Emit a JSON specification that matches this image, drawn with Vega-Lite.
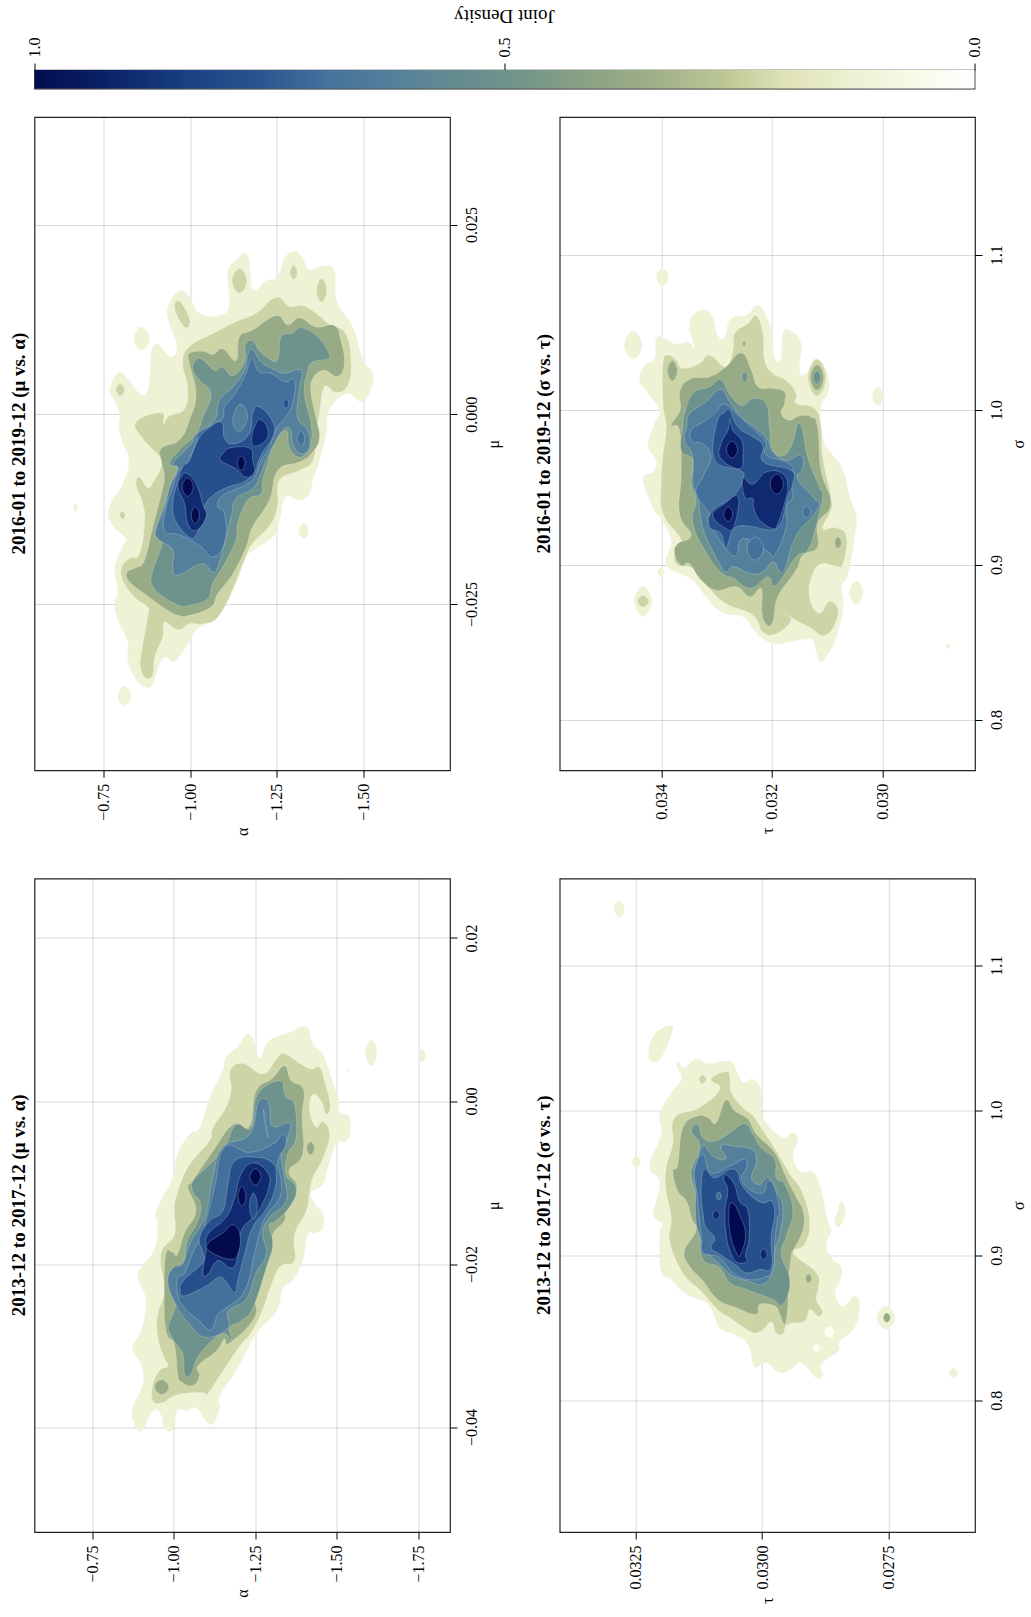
{"$schema":"https://vega.github.io/schema/vega-lite/v6.json","background":"white","padding":{"left":8.5,"top":5,"right":0,"bottom":0},"bounds":"flush","spacing":28,
"config":{"font":"Liberation Serif","view":{"stroke":"#222","strokeWidth":1.2},"axis":{"labelFont":"Liberation Serif","titleFont":"Liberation Serif","labelFontSize":16,"titleFontSize":16,"titleFontWeight":"normal","labelColor":"#000","titleColor":"#000","tickColor":"#000","tickSize":7,"tickWidth":1,"domain":false,"labelAngle":-90,"titleAngle":-90,"titleAlign":"center","titleBaseline":"middle","gridColor":"#000","gridOpacity":0.15,"gridWidth":1,"zindex":1,"labelOverlap":false,"labelPadding":6}},
"vconcat":[
{"width":940,"height":18.5,"title":{"text":"Joint Density","orient":"top","anchor":"middle","angle":180,"fontSize":19,"fontWeight":"normal","font":"Liberation Serif","baseline":"middle","offset":2.3},
"data":{"values":[{"v":1,"w":0}]},"mark":{"type":"rect","fill":{"gradient":"linear","x1":0,"x2":1,"y1":0,"y2":0,"stops":[{"offset":0,"color":"#010b4e"},{"offset":0.1,"color":"#0f2a70"},{"offset":0.17,"color":"#1c4285"},{"offset":0.24,"color":"#2a558f"},{"offset":0.31,"color":"#44709c"},{"offset":0.38,"color":"#55809b"},{"offset":0.45,"color":"#648c90"},{"offset":0.52,"color":"#74958a"},{"offset":0.59,"color":"#8aa384"},{"offset":0.66,"color":"#a0b088"},{"offset":0.73,"color":"#bcc695"},{"offset":0.8,"color":"#dfe3b6"},{"offset":0.87,"color":"#eef1d2"},{"offset":0.94,"color":"#f9fae9"},{"offset":1,"color":"#ffffff"}]}},"encoding":{"x":{"field":"v","type":"quantitative","scale":{"domain":[1,0],"nice":false},"axis":{"orient":"top","values":[1,0.5,0],"format":".1f","grid":false,"title":null,"labelPadding":6}},"x2":{"field":"w"}}},
{"concat":[
{"width":415.5,"height":653.3,"title":{"text":"2016-01 to 2019-12 (μ vs. α)","orient":"left","anchor":"middle","fontWeight":"bold","fontSize":19,"font":"Liberation Serif","offset":5.4},
"data":{"values":[
{"g":1,"d":0.12,"x":-1.166,"y":0.0209},{"g":1,"d":0.12,"x":-1.18,"y":0.0165},{"g":1,"d":0.12,"x":-1.218,"y":0.0176},{"g":1,"d":0.12,"x":-1.252,"y":0.0181},{"g":1,"d":0.12,"x":-1.271,"y":0.0205},{"g":1,"d":0.12,"x":-1.3,"y":0.0215},{"g":1,"d":0.12,"x":-1.324,"y":0.0205},{"g":1,"d":0.12,"x":-1.343,"y":0.019},{"g":1,"d":0.12,"x":-1.381,"y":0.0195},{"g":1,"d":0.12,"x":-1.415,"y":0.019},{"g":1,"d":0.12,"x":-1.422,"y":0.015},{"g":1,"d":0.12,"x":-1.468,"y":0.0115},{"g":1,"d":0.12,"x":-1.496,"y":0.0073},{"g":1,"d":0.12,"x":-1.525,"y":0.0053},{"g":1,"d":0.12,"x":-1.515,"y":0.0027},{"g":1,"d":0.12,"x":-1.491,"y":0.0017},{"g":1,"d":0.12,"x":-1.448,"y":0.0027},{"g":1,"d":0.12,"x":-1.4,"y":0.0005},{"g":1,"d":0.12,"x":-1.391,"y":-0.0026},{"g":1,"d":0.12,"x":-1.372,"y":-0.0061},{"g":1,"d":0.12,"x":-1.353,"y":-0.0087},{"g":1,"d":0.12,"x":-1.343,"y":-0.0105},{"g":1,"d":0.12,"x":-1.314,"y":-0.0113},{"g":1,"d":0.12,"x":-1.276,"y":-0.0109},{"g":1,"d":0.12,"x":-1.257,"y":-0.014},{"g":1,"d":0.12,"x":-1.242,"y":-0.0159},{"g":1,"d":0.12,"x":-1.19,"y":-0.0177},{"g":1,"d":0.12,"x":-1.161,"y":-0.0188},{"g":1,"d":0.12,"x":-1.132,"y":-0.0223},{"g":1,"d":0.12,"x":-1.094,"y":-0.0258},{"g":1,"d":0.12,"x":-1.046,"y":-0.0276},{"g":1,"d":0.12,"x":-1.017,"y":-0.0284},{"g":1,"d":0.12,"x":-0.989,"y":-0.0306},{"g":1,"d":0.12,"x":-0.955,"y":-0.0325},{"g":1,"d":0.12,"x":-0.926,"y":-0.032},{"g":1,"d":0.12,"x":-0.907,"y":-0.0335},{"g":1,"d":0.12,"x":-0.893,"y":-0.0355},{"g":1,"d":0.12,"x":-0.874,"y":-0.036},{"g":1,"d":0.12,"x":-0.845,"y":-0.035},{"g":1,"d":0.12,"x":-0.821,"y":-0.0324},{"g":1,"d":0.12,"x":-0.821,"y":-0.03},{"g":1,"d":0.12,"x":-0.792,"y":-0.0271},{"g":1,"d":0.12,"x":-0.783,"y":-0.025},{"g":1,"d":0.12,"x":-0.792,"y":-0.0232},{"g":1,"d":0.12,"x":-0.783,"y":-0.0201},{"g":1,"d":0.12,"x":-0.811,"y":-0.017},{"g":1,"d":0.12,"x":-0.816,"y":-0.0164},{"g":1,"d":0.12,"x":-0.773,"y":-0.0144},{"g":1,"d":0.12,"x":-0.768,"y":-0.0122},{"g":1,"d":0.12,"x":-0.807,"y":-0.0091},{"g":1,"d":0.12,"x":-0.824,"y":-0.0061},{"g":1,"d":0.12,"x":-0.807,"y":-0.0039},{"g":1,"d":0.12,"x":-0.795,"y":-0.0017},{"g":1,"d":0.12,"x":-0.797,"y":0},{"g":1,"d":0.12,"x":-0.783,"y":0.0018},{"g":1,"d":0.12,"x":-0.768,"y":0.0032},{"g":1,"d":0.12,"x":-0.792,"y":0.0054},{"g":1,"d":0.12,"x":-0.816,"y":0.0049},{"g":1,"d":0.12,"x":-0.859,"y":0.0026},{"g":1,"d":0.12,"x":-0.881,"y":0.0036},{"g":1,"d":0.12,"x":-0.888,"y":0.008},{"g":1,"d":0.12,"x":-0.907,"y":0.0092},{"g":1,"d":0.12,"x":-0.945,"y":0.0075},{"g":1,"d":0.12,"x":-0.962,"y":0.0091},{"g":1,"d":0.12,"x":-0.941,"y":0.0119},{"g":1,"d":0.12,"x":-0.936,"y":0.0141},{"g":1,"d":0.12,"x":-0.969,"y":0.0162},{"g":1,"d":0.12,"x":-0.998,"y":0.0154},{"g":1,"d":0.12,"x":-1.027,"y":0.0133},{"g":1,"d":0.12,"x":-1.08,"y":0.013},{"g":1,"d":0.12,"x":-1.113,"y":0.0143},{"g":1,"d":0.12,"x":-1.108,"y":0.0185},{"g":1,"d":0.12,"x":-1.132,"y":0.0203},
{"g":2,"d":0.12,"x":-0.859,"y":0.0115},{"g":2,"d":0.12,"x":-0.883,"y":0.01},{"g":2,"d":0.12,"x":-0.859,"y":0.0084},{"g":2,"d":0.12,"x":-0.838,"y":0.01},
{"g":3,"d":0.12,"x":-0.811,"y":-0.0358},{"g":3,"d":0.12,"x":-0.83,"y":-0.0372},{"g":3,"d":0.12,"x":-0.811,"y":-0.0383},{"g":3,"d":0.12,"x":-0.792,"y":-0.0372},
{"g":4,"d":0.12,"x":-1.327,"y":-0.0144},{"g":4,"d":0.12,"x":-1.34,"y":-0.0154},{"g":4,"d":0.12,"x":-1.327,"y":-0.0164},{"g":4,"d":0.12,"x":-1.313,"y":-0.0154},
{"g":5,"d":0.12,"x":-0.67,"y":-0.0118},{"g":5,"d":0.12,"x":-0.676,"y":-0.0123},{"g":5,"d":0.12,"x":-0.67,"y":-0.0128},{"g":5,"d":0.12,"x":-0.664,"y":-0.0123},
{"g":6,"d":0.235,"x":-1.247,"y":0.0154},{"g":6,"d":0.235,"x":-1.285,"y":0.0142},{"g":6,"d":0.235,"x":-1.324,"y":0.0143},{"g":6,"d":0.235,"x":-1.362,"y":0.0133},{"g":6,"d":0.235,"x":-1.405,"y":0.0117},{"g":6,"d":0.235,"x":-1.448,"y":0.0106},{"g":6,"d":0.235,"x":-1.463,"y":0.0067},{"g":6,"d":0.235,"x":-1.453,"y":0.0038},{"g":6,"d":0.235,"x":-1.42,"y":0.0029},{"g":6,"d":0.235,"x":-1.386,"y":0.0036},{"g":6,"d":0.235,"x":-1.372,"y":0.0001},{"g":6,"d":0.235,"x":-1.362,"y":-0.0026},{"g":6,"d":0.235,"x":-1.353,"y":-0.0061},{"g":6,"d":0.235,"x":-1.314,"y":-0.0074},{"g":6,"d":0.235,"x":-1.257,"y":-0.0087},{"g":6,"d":0.235,"x":-1.252,"y":-0.0118},{"g":6,"d":0.235,"x":-1.233,"y":-0.0144},{"g":6,"d":0.235,"x":-1.18,"y":-0.017},{"g":6,"d":0.235,"x":-1.156,"y":-0.0192},{"g":6,"d":0.235,"x":-1.123,"y":-0.023},{"g":6,"d":0.235,"x":-1.08,"y":-0.0267},{"g":6,"d":0.235,"x":-1.036,"y":-0.0276},{"g":6,"d":0.235,"x":-0.998,"y":-0.0276},{"g":6,"d":0.235,"x":-0.965,"y":-0.0284},{"g":6,"d":0.235,"x":-0.926,"y":-0.0274},{"g":6,"d":0.235,"x":-0.921,"y":-0.0293},{"g":6,"d":0.235,"x":-0.898,"y":-0.032},{"g":6,"d":0.235,"x":-0.893,"y":-0.0342},{"g":6,"d":0.235,"x":-0.875,"y":-0.0348},{"g":6,"d":0.235,"x":-0.859,"y":-0.0337},{"g":6,"d":0.235,"x":-0.859,"y":-0.0317},{"g":6,"d":0.235,"x":-0.878,"y":-0.0267},{"g":6,"d":0.235,"x":-0.878,"y":-0.0254},{"g":6,"d":0.235,"x":-0.845,"y":-0.0243},{"g":6,"d":0.235,"x":-0.811,"y":-0.0223},{"g":6,"d":0.235,"x":-0.802,"y":-0.0203},{"g":6,"d":0.235,"x":-0.826,"y":-0.019},{"g":6,"d":0.235,"x":-0.854,"y":-0.0184},{"g":6,"d":0.235,"x":-0.869,"y":-0.0144},{"g":6,"d":0.235,"x":-0.864,"y":-0.0118},{"g":6,"d":0.235,"x":-0.845,"y":-0.0094},{"g":6,"d":0.235,"x":-0.854,"y":-0.0083},{"g":6,"d":0.235,"x":-0.878,"y":-0.0097},{"g":6,"d":0.235,"x":-0.897,"y":-0.0087},{"g":6,"d":0.235,"x":-0.917,"y":-0.0069},{"g":6,"d":0.235,"x":-0.912,"y":-0.0056},{"g":6,"d":0.235,"x":-0.864,"y":-0.0032},{"g":6,"d":0.235,"x":-0.845,"y":-0.001},{"g":6,"d":0.235,"x":-0.917,"y":0.0002},{"g":6,"d":0.235,"x":-0.923,"y":-0.0012},{"g":6,"d":0.235,"x":-0.941,"y":-0.0002},{"g":6,"d":0.235,"x":-0.984,"y":0.0007},{"g":6,"d":0.235,"x":-0.993,"y":0.0036},{"g":6,"d":0.235,"x":-0.979,"y":0.0067},{"g":6,"d":0.235,"x":-0.998,"y":0.0089},{"g":6,"d":0.235,"x":-1.065,"y":0.0106},{"g":6,"d":0.235,"x":-1.132,"y":0.0122},{"g":6,"d":0.235,"x":-1.19,"y":0.0133},
{"g":7,"d":0.235,"x":-1.142,"y":0.0192},{"g":7,"d":0.235,"x":-1.163,"y":0.0176},{"g":7,"d":0.235,"x":-1.142,"y":0.016},{"g":7,"d":0.235,"x":-1.121,"y":0.0176},
{"g":8,"d":0.235,"x":-0.969,"y":0.0149},{"g":8,"d":0.235,"x":-0.999,"y":0.0124},{"g":8,"d":0.235,"x":-0.984,"y":0.0115},{"g":8,"d":0.235,"x":-0.956,"y":0.0139},
{"g":9,"d":0.235,"x":-1.298,"y":0.0196},{"g":9,"d":0.235,"x":-1.308,"y":0.0187},{"g":9,"d":0.235,"x":-1.298,"y":0.0178},{"g":9,"d":0.235,"x":-1.288,"y":0.0187},
{"g":10,"d":0.235,"x":-1.378,"y":0.0179},{"g":10,"d":0.235,"x":-1.393,"y":0.0163},{"g":10,"d":0.235,"x":-1.378,"y":0.0148},{"g":10,"d":0.235,"x":-1.364,"y":0.0163},
{"g":11,"d":0.235,"x":-0.799,"y":0.004},{"g":11,"d":0.235,"x":-0.811,"y":0.0032},{"g":11,"d":0.235,"x":-0.799,"y":0.0024},{"g":11,"d":0.235,"x":-0.787,"y":0.0032},
{"g":12,"d":0.235,"x":-0.805,"y":-0.0128},{"g":12,"d":0.235,"x":-0.813,"y":-0.0133},{"g":12,"d":0.235,"x":-0.805,"y":-0.0138},{"g":12,"d":0.235,"x":-0.797,"y":-0.0133},
{"g":13,"d":0.37,"x":-1.247,"y":0.013},{"g":13,"d":0.37,"x":-1.281,"y":0.0118},{"g":13,"d":0.37,"x":-1.316,"y":0.0127},{"g":13,"d":0.37,"x":-1.362,"y":0.0115},{"g":13,"d":0.37,"x":-1.415,"y":0.0117},{"g":13,"d":0.37,"x":-1.434,"y":0.0097},{"g":13,"d":0.37,"x":-1.444,"y":0.0067},{"g":13,"d":0.37,"x":-1.424,"y":0.005},{"g":13,"d":0.37,"x":-1.386,"y":0.0058},{"g":13,"d":0.37,"x":-1.353,"y":0.0047},{"g":13,"d":0.37,"x":-1.348,"y":0.0027},{"g":13,"d":0.37,"x":-1.362,"y":-0.0004},{"g":13,"d":0.37,"x":-1.372,"y":-0.0032},{"g":13,"d":0.37,"x":-1.348,"y":-0.0052},{"g":13,"d":0.37,"x":-1.314,"y":-0.0063},{"g":13,"d":0.37,"x":-1.252,"y":-0.0074},{"g":13,"d":0.37,"x":-1.228,"y":-0.0113},{"g":13,"d":0.37,"x":-1.18,"y":-0.0148},{"g":13,"d":0.37,"x":-1.161,"y":-0.0175},{"g":13,"d":0.37,"x":-1.123,"y":-0.021},{"g":13,"d":0.37,"x":-1.08,"y":-0.0236},{"g":13,"d":0.37,"x":-1.06,"y":-0.0254},{"g":13,"d":0.37,"x":-0.998,"y":-0.0265},{"g":13,"d":0.37,"x":-0.965,"y":-0.0265},{"g":13,"d":0.37,"x":-0.921,"y":-0.0254},{"g":13,"d":0.37,"x":-0.873,"y":-0.0238},{"g":13,"d":0.37,"x":-0.826,"y":-0.0221},{"g":13,"d":0.37,"x":-0.819,"y":-0.0208},{"g":13,"d":0.37,"x":-0.845,"y":-0.0202},{"g":13,"d":0.37,"x":-0.869,"y":-0.0192},{"g":13,"d":0.37,"x":-0.893,"y":-0.0148},{"g":13,"d":0.37,"x":-0.917,"y":-0.0105},{"g":13,"d":0.37,"x":-0.926,"y":-0.0083},{"g":13,"d":0.37,"x":-0.917,"y":-0.0061},{"g":13,"d":0.37,"x":-0.917,"y":-0.0045},{"g":13,"d":0.37,"x":-0.969,"y":-0.0034},{"g":13,"d":0.37,"x":-0.998,"y":-0.0008},{"g":13,"d":0.37,"x":-1.017,"y":0.0027},{"g":13,"d":0.37,"x":-0.998,"y":0.0067},{"g":13,"d":0.37,"x":-0.998,"y":0.008},{"g":13,"d":0.37,"x":-1.036,"y":0.0083},{"g":13,"d":0.37,"x":-1.065,"y":0.0079},{"g":13,"d":0.37,"x":-1.094,"y":0.0086},{"g":13,"d":0.37,"x":-1.132,"y":0.0071},{"g":13,"d":0.37,"x":-1.142,"y":0.0102},{"g":13,"d":0.37,"x":-1.18,"y":0.0111},
{"g":14,"d":0.5,"x":-1.319,"y":0.0114},{"g":14,"d":0.5,"x":-1.362,"y":0.0104},{"g":14,"d":0.5,"x":-1.396,"y":0.0084},{"g":14,"d":0.5,"x":-1.396,"y":0.0073},{"g":14,"d":0.5,"x":-1.353,"y":0.0069},{"g":14,"d":0.5,"x":-1.338,"y":0.0056},{"g":14,"d":0.5,"x":-1.329,"y":0.0027},{"g":14,"d":0.5,"x":-1.348,"y":-0.0012},{"g":14,"d":0.5,"x":-1.348,"y":-0.0039},{"g":14,"d":0.5,"x":-1.334,"y":-0.0052},{"g":14,"d":0.5,"x":-1.309,"y":-0.0056},{"g":14,"d":0.5,"x":-1.285,"y":-0.0043},{"g":14,"d":0.5,"x":-1.276,"y":-0.0021},{"g":14,"d":0.5,"x":-1.242,"y":-0.0039},{"g":14,"d":0.5,"x":-1.223,"y":-0.0065},{"g":14,"d":0.5,"x":-1.209,"y":-0.0087},{"g":14,"d":0.5,"x":-1.204,"y":-0.0105},{"g":14,"d":0.5,"x":-1.166,"y":-0.0113},{"g":14,"d":0.5,"x":-1.137,"y":-0.0144},{"g":14,"d":0.5,"x":-1.132,"y":-0.0166},{"g":14,"d":0.5,"x":-1.099,"y":-0.0197},{"g":14,"d":0.5,"x":-1.065,"y":-0.0223},{"g":14,"d":0.5,"x":-1.051,"y":-0.0243},{"g":14,"d":0.5,"x":-0.998,"y":-0.0252},{"g":14,"d":0.5,"x":-0.969,"y":-0.0252},{"g":14,"d":0.5,"x":-0.921,"y":-0.024},{"g":14,"d":0.5,"x":-0.893,"y":-0.0227},{"g":14,"d":0.5,"x":-0.89,"y":-0.021},{"g":14,"d":0.5,"x":-0.921,"y":-0.0166},{"g":14,"d":0.5,"x":-0.902,"y":-0.0153},{"g":14,"d":0.5,"x":-0.926,"y":-0.0118},{"g":14,"d":0.5,"x":-0.95,"y":-0.0087},{"g":14,"d":0.5,"x":-0.965,"y":-0.0071},{"g":14,"d":0.5,"x":-0.941,"y":-0.0065},{"g":14,"d":0.5,"x":-0.969,"y":-0.0047},{"g":14,"d":0.5,"x":-1.017,"y":-0.0026},{"g":14,"d":0.5,"x":-1.036,"y":-0.0004},{"g":14,"d":0.5,"x":-1.06,"y":0.0027},{"g":14,"d":0.5,"x":-1.027,"y":0.0045},{"g":14,"d":0.5,"x":-1.008,"y":0.0058},{"g":14,"d":0.5,"x":-1.012,"y":0.0069},{"g":14,"d":0.5,"x":-1.032,"y":0.0073},{"g":14,"d":0.5,"x":-1.07,"y":0.0058},{"g":14,"d":0.5,"x":-1.094,"y":0.0062},{"g":14,"d":0.5,"x":-1.123,"y":0.0051},{"g":14,"d":0.5,"x":-1.156,"y":0.0069},{"g":14,"d":0.5,"x":-1.159,"y":0.0091},{"g":14,"d":0.5,"x":-1.18,"y":0.0097},{"g":14,"d":0.5,"x":-1.199,"y":0.0084},{"g":14,"d":0.5,"x":-1.228,"y":0.0073},{"g":14,"d":0.5,"x":-1.252,"y":0.0073},{"g":14,"d":0.5,"x":-1.262,"y":0.0102},{"g":14,"d":0.5,"x":-1.295,"y":0.0107},
{"g":15,"d":0.62,"x":-1.18,"y":0.0085},{"g":15,"d":0.62,"x":-1.204,"y":0.0069},{"g":15,"d":0.62,"x":-1.238,"y":0.006},{"g":15,"d":0.62,"x":-1.271,"y":0.0054},{"g":15,"d":0.62,"x":-1.319,"y":0.0058},{"g":15,"d":0.62,"x":-1.314,"y":0.0032},{"g":15,"d":0.62,"x":-1.309,"y":-0.0004},{"g":15,"d":0.62,"x":-1.338,"y":-0.0021},{"g":15,"d":0.62,"x":-1.343,"y":-0.0043},{"g":15,"d":0.62,"x":-1.319,"y":-0.0052},{"g":15,"d":0.62,"x":-1.295,"y":-0.0039},{"g":15,"d":0.62,"x":-1.29,"y":-0.0021},{"g":15,"d":0.62,"x":-1.271,"y":-0.0019},{"g":15,"d":0.62,"x":-1.242,"y":-0.0039},{"g":15,"d":0.62,"x":-1.218,"y":-0.0061},{"g":15,"d":0.62,"x":-1.204,"y":-0.0078},{"g":15,"d":0.62,"x":-1.18,"y":-0.0098},{"g":15,"d":0.62,"x":-1.132,"y":-0.0111},{"g":15,"d":0.62,"x":-1.118,"y":-0.0135},{"g":15,"d":0.62,"x":-1.099,"y":-0.017},{"g":15,"d":0.62,"x":-1.08,"y":-0.0201},{"g":15,"d":0.62,"x":-1.065,"y":-0.0208},{"g":15,"d":0.62,"x":-1.032,"y":-0.0197},{"g":15,"d":0.62,"x":-0.965,"y":-0.0212},{"g":15,"d":0.62,"x":-0.95,"y":-0.0201},{"g":15,"d":0.62,"x":-0.95,"y":-0.0179},{"g":15,"d":0.62,"x":-0.907,"y":-0.0164},{"g":15,"d":0.62,"x":-0.902,"y":-0.0151},{"g":15,"d":0.62,"x":-0.926,"y":-0.0124},{"g":15,"d":0.62,"x":-0.941,"y":-0.0096},{"g":15,"d":0.62,"x":-0.965,"y":-0.0071},{"g":15,"d":0.62,"x":-0.95,"y":-0.0065},{"g":15,"d":0.62,"x":-1.003,"y":-0.0039},{"g":15,"d":0.62,"x":-1.017,"y":-0.0026},{"g":15,"d":0.62,"x":-1.07,"y":-0.0008},{"g":15,"d":0.62,"x":-1.084,"y":0.0018},{"g":15,"d":0.62,"x":-1.123,"y":0.0036},{"g":15,"d":0.62,"x":-1.156,"y":0.0058},{"g":15,"d":0.62,"x":-1.166,"y":0.0078},
{"g":16,"d":0.69,"x":-1.18,"y":0.0073},{"g":16,"d":0.69,"x":-1.199,"y":0.0056},{"g":16,"d":0.69,"x":-1.233,"y":0.0054},{"g":16,"d":0.69,"x":-1.271,"y":0.0043},{"g":16,"d":0.69,"x":-1.3,"y":0.0045},{"g":16,"d":0.69,"x":-1.295,"y":0.0014},{"g":16,"d":0.69,"x":-1.271,"y":-0.0006},{"g":16,"d":0.69,"x":-1.247,"y":-0.0019},{"g":16,"d":0.69,"x":-1.228,"y":-0.0043},{"g":16,"d":0.69,"x":-1.204,"y":-0.0061},{"g":16,"d":0.69,"x":-1.185,"y":-0.0083},{"g":16,"d":0.69,"x":-1.156,"y":-0.0094},{"g":16,"d":0.69,"x":-1.094,"y":-0.0107},{"g":16,"d":0.69,"x":-1.08,"y":-0.0122},{"g":16,"d":0.69,"x":-1.099,"y":-0.0131},{"g":16,"d":0.69,"x":-1.101,"y":-0.0166},{"g":16,"d":0.69,"x":-1.067,"y":-0.0188},{"g":16,"d":0.69,"x":-1.027,"y":-0.0173},{"g":16,"d":0.69,"x":-0.969,"y":-0.0159},{"g":16,"d":0.69,"x":-0.926,"y":-0.0153},{"g":16,"d":0.69,"x":-0.931,"y":-0.0122},{"g":16,"d":0.69,"x":-0.95,"y":-0.0096},{"g":16,"d":0.69,"x":-0.965,"y":-0.0076},{"g":16,"d":0.69,"x":-0.988,"y":-0.0065},{"g":16,"d":0.69,"x":-1.017,"y":-0.0039},{"g":16,"d":0.69,"x":-1.027,"y":-0.0023},{"g":16,"d":0.69,"x":-1.089,"y":-0.0008},{"g":16,"d":0.69,"x":-1.099,"y":0.001},{"g":16,"d":0.69,"x":-1.123,"y":0.0023},{"g":16,"d":0.69,"x":-1.156,"y":0.0049},{"g":16,"d":0.69,"x":-1.17,"y":0.0067},
{"g":17,"d":0.62,"x":-1.142,"y":0.0013},{"g":17,"d":0.62,"x":-1.164,"y":0.0001},{"g":17,"d":0.62,"x":-1.156,"y":-0.0016},{"g":17,"d":0.62,"x":-1.137,"y":-0.0022},{"g":17,"d":0.62,"x":-1.123,"y":-0.0008},
{"g":18,"d":0.78,"x":-1.276,"y":0.002},{"g":18,"d":0.78,"x":-1.284,"y":0.0014},{"g":18,"d":0.78,"x":-1.276,"y":0.0008},{"g":18,"d":0.78,"x":-1.268,"y":0.0014},
{"g":19,"d":0.69,"x":-1.319,"y":-0.0022},{"g":19,"d":0.69,"x":-1.33,"y":-0.0032},{"g":19,"d":0.69,"x":-1.319,"y":-0.0042},{"g":19,"d":0.69,"x":-1.308,"y":-0.0032},
{"g":20,"d":0.78,"x":-1.017,"y":-0.0039},{"g":20,"d":0.78,"x":-1.041,"y":-0.0023},{"g":20,"d":0.78,"x":-1.089,"y":-0.001},{"g":20,"d":0.78,"x":-1.099,"y":-0.0032},{"g":20,"d":0.78,"x":-1.127,"y":-0.0039},{"g":20,"d":0.78,"x":-1.17,"y":-0.0026},{"g":20,"d":0.78,"x":-1.18,"y":0.0001},{"g":20,"d":0.78,"x":-1.199,"y":0.001},{"g":20,"d":0.78,"x":-1.238,"y":-0.001},{"g":20,"d":0.78,"x":-1.238,"y":-0.003},{"g":20,"d":0.78,"x":-1.209,"y":-0.005},{"g":20,"d":0.78,"x":-1.194,"y":-0.0065},{"g":20,"d":0.78,"x":-1.188,"y":-0.0074},{"g":20,"d":0.78,"x":-1.156,"y":-0.0089},{"g":20,"d":0.78,"x":-1.108,"y":-0.0096},{"g":20,"d":0.78,"x":-1.065,"y":-0.0107},{"g":20,"d":0.78,"x":-1.041,"y":-0.0122},{"g":20,"d":0.78,"x":-1.032,"y":-0.0142},{"g":20,"d":0.78,"x":-1.017,"y":-0.0159},{"g":20,"d":0.78,"x":-0.998,"y":-0.0162},{"g":20,"d":0.78,"x":-0.96,"y":-0.0142},{"g":20,"d":0.78,"x":-0.95,"y":-0.0118},{"g":20,"d":0.78,"x":-0.965,"y":-0.0087},{"g":20,"d":0.78,"x":-0.979,"y":-0.0069},{"g":20,"d":0.78,"x":-0.998,"y":-0.0061},
{"g":21,"d":0.9,"x":-1.204,"y":-0.0007},{"g":21,"d":0.9,"x":-1.223,"y":-0.0019},{"g":21,"d":0.9,"x":-1.218,"y":-0.0034},{"g":21,"d":0.9,"x":-1.185,"y":-0.0042},{"g":21,"d":0.9,"x":-1.177,"y":-0.003},{"g":21,"d":0.9,"x":-1.19,"y":-0.0012},
{"g":22,"d":0.9,"x":-1.094,"y":-0.0052},{"g":22,"d":0.9,"x":-1.118,"y":-0.0044},{"g":22,"d":0.9,"x":-1.172,"y":-0.0045},{"g":22,"d":0.9,"x":-1.18,"y":-0.0061},{"g":22,"d":0.9,"x":-1.185,"y":-0.0076},{"g":22,"d":0.9,"x":-1.161,"y":-0.0083},{"g":22,"d":0.9,"x":-1.132,"y":-0.0072},{"g":22,"d":0.9,"x":-1.089,"y":-0.0061},
{"g":23,"d":0.9,"x":-0.99,"y":-0.0078},{"g":23,"d":0.9,"x":-1.017,"y":-0.0091},{"g":23,"d":0.9,"x":-1.036,"y":-0.0118},{"g":23,"d":0.9,"x":-1.046,"y":-0.0135},{"g":23,"d":0.9,"x":-1.017,"y":-0.0153},{"g":23,"d":0.9,"x":-0.993,"y":-0.0144},{"g":23,"d":0.9,"x":-0.984,"y":-0.0118},{"g":23,"d":0.9,"x":-0.965,"y":-0.0096},{"g":23,"d":0.9,"x":-0.974,"y":-0.0083},
{"g":24,"d":1,"x":-0.993,"y":-0.0084},{"g":24,"d":1,"x":-1.009,"y":-0.0096},{"g":24,"d":1,"x":-0.993,"y":-0.0108},{"g":24,"d":1,"x":-0.977,"y":-0.0096},
{"g":25,"d":1,"x":-1.015,"y":-0.0122},{"g":25,"d":1,"x":-1.027,"y":-0.0133},{"g":25,"d":1,"x":-1.015,"y":-0.0144},{"g":25,"d":1,"x":-1.003,"y":-0.0133},
{"g":26,"d":1,"x":-1.147,"y":-0.0055},{"g":26,"d":1,"x":-1.158,"y":-0.0064},{"g":26,"d":1,"x":-1.147,"y":-0.0074},{"g":26,"d":1,"x":-1.136,"y":-0.0064}
]},"mark":{"type":"line","interpolate":"cardinal-closed","tension":-0.3,"stroke":"#e8eef2","strokeWidth":0.5,"strokeOpacity":0.5},"encoding":{"order":{"value":null},"detail":{"field":"g"},"x":{"field":"x","type":"quantitative","scale":{"domain":[-0.552,-1.748],"nice":false,"zero":false},"axis":{"title":"α","titlePadding":11,"values":[-0.75,-1,-1.25,-1.5],"format":".2f"}},"y":{"field":"y","type":"quantitative","scale":{"domain":[-0.04692,0.03918],"nice":false,"zero":false},"axis":{"orient":"right","title":"μ","titlePadding":14,"values":[-0.025,0,0.025],"format":".3f"}},"fill":{"field":"d","type":"quantitative","legend":null,"scale":{"domain":[0,0.06,0.13,0.2,0.27,0.34,0.41,0.48,0.55,0.62,0.69,0.76,0.83,0.9,1],"range":["#ffffff","#f9fae9","#eef1d2","#dfe3b6","#bcc695","#a0b088","#8aa384","#74958a","#648c90","#55809b","#44709c","#2a558f","#1c4285","#0f2a70","#010b4e"]}}}},
{"width":415.3,"height":653.3,"title":{"text":"2016-01 to 2019-12 (σ vs. τ)","orient":"left","anchor":"middle","fontWeight":"bold","fontSize":19,"font":"Liberation Serif","offset":5.4},
"data":{"values":[
{"g":1,"d":0.12,"x":0.03225,"y":1.0673},{"g":1,"d":0.12,"x":0.03207,"y":1.0577},{"g":1,"d":0.12,"x":0.03198,"y":1.0448},{"g":1,"d":0.12,"x":0.03195,"y":1.0329},{"g":1,"d":0.12,"x":0.03183,"y":1.0329},{"g":1,"d":0.12,"x":0.0318,"y":1.0491},{"g":1,"d":0.12,"x":0.03165,"y":1.0506},{"g":1,"d":0.12,"x":0.03147,"y":1.0426},{"g":1,"d":0.12,"x":0.0315,"y":1.0254},{"g":1,"d":0.12,"x":0.03138,"y":1.0233},{"g":1,"d":0.12,"x":0.0312,"y":1.0329},{"g":1,"d":0.12,"x":0.03099,"y":1.0233},{"g":1,"d":0.12,"x":0.03099,"y":1.0104},{"g":1,"d":0.12,"x":0.03111,"y":1.0018},{"g":1,"d":0.12,"x":0.03108,"y":0.9824},{"g":1,"d":0.12,"x":0.03096,"y":0.9738},{"g":1,"d":0.12,"x":0.03071,"y":0.9609},{"g":1,"d":0.12,"x":0.03059,"y":0.9437},{"g":1,"d":0.12,"x":0.03047,"y":0.9308},{"g":1,"d":0.12,"x":0.0305,"y":0.9179},{"g":1,"d":0.12,"x":0.03062,"y":0.8943},{"g":1,"d":0.12,"x":0.03074,"y":0.8857},{"g":1,"d":0.12,"x":0.03071,"y":0.8727},{"g":1,"d":0.12,"x":0.03083,"y":0.8534},{"g":1,"d":0.12,"x":0.03092,"y":0.8459},{"g":1,"d":0.12,"x":0.03111,"y":0.8373},{"g":1,"d":0.12,"x":0.0312,"y":0.8448},{"g":1,"d":0.12,"x":0.03126,"y":0.8513},{"g":1,"d":0.12,"x":0.03141,"y":0.8519},{"g":1,"d":0.12,"x":0.03168,"y":0.8502},{"g":1,"d":0.12,"x":0.03192,"y":0.8487},{"g":1,"d":0.12,"x":0.03216,"y":0.8523},{"g":1,"d":0.12,"x":0.03234,"y":0.8588},{"g":1,"d":0.12,"x":0.03252,"y":0.8663},{"g":1,"d":0.12,"x":0.03292,"y":0.8695},{"g":1,"d":0.12,"x":0.03319,"y":0.8792},{"g":1,"d":0.12,"x":0.03343,"y":0.89},{"g":1,"d":0.12,"x":0.03367,"y":0.8943},{"g":1,"d":0.12,"x":0.03391,"y":0.8996},{"g":1,"d":0.12,"x":0.03388,"y":0.9072},{"g":1,"d":0.12,"x":0.03382,"y":0.9158},{"g":1,"d":0.12,"x":0.034,"y":0.9297},{"g":1,"d":0.12,"x":0.03412,"y":0.9351},{"g":1,"d":0.12,"x":0.03433,"y":0.9545},{"g":1,"d":0.12,"x":0.03415,"y":0.9598},{"g":1,"d":0.12,"x":0.03409,"y":0.9674},{"g":1,"d":0.12,"x":0.03424,"y":0.977},{"g":1,"d":0.12,"x":0.03412,"y":0.991},{"g":1,"d":0.12,"x":0.03403,"y":0.9996},{"g":1,"d":0.12,"x":0.03424,"y":1.0104},{"g":1,"d":0.12,"x":0.03439,"y":1.0189},{"g":1,"d":0.12,"x":0.0343,"y":1.0286},{"g":1,"d":0.12,"x":0.03412,"y":1.0329},{"g":1,"d":0.12,"x":0.03409,"y":1.0458},{"g":1,"d":0.12,"x":0.03394,"y":1.0458},{"g":1,"d":0.12,"x":0.03373,"y":1.0422},{"g":1,"d":0.12,"x":0.03352,"y":1.0437},{"g":1,"d":0.12,"x":0.0334,"y":1.0404},{"g":1,"d":0.12,"x":0.03349,"y":1.0534},{"g":1,"d":0.12,"x":0.0334,"y":1.062},{"g":1,"d":0.12,"x":0.03313,"y":1.063},{"g":1,"d":0.12,"x":0.03298,"y":1.048},{"g":1,"d":0.12,"x":0.03286,"y":1.0469},{"g":1,"d":0.12,"x":0.03274,"y":1.0587},{"g":1,"d":0.12,"x":0.03246,"y":1.0609},
{"g":2,"d":0.12,"x":0.03409,"y":1.0856},{"g":2,"d":0.12,"x":0.03398,"y":1.091},{"g":2,"d":0.12,"x":0.03387,"y":1.0856},{"g":2,"d":0.12,"x":0.03398,"y":1.0802},
{"g":3,"d":0.12,"x":0.03467,"y":1.0415},{"g":3,"d":0.12,"x":0.03451,"y":1.0505},{"g":3,"d":0.12,"x":0.03435,"y":1.0415},{"g":3,"d":0.12,"x":0.03451,"y":1.0325},
{"g":4,"d":0.12,"x":0.03018,"y":1.0086},{"g":4,"d":0.12,"x":0.03008,"y":1.0146},{"g":4,"d":0.12,"x":0.02998,"y":1.0086},{"g":4,"d":0.12,"x":0.03008,"y":1.0026},
{"g":5,"d":0.12,"x":0.03407,"y":0.8949},{"g":5,"d":0.12,"x":0.03401,"y":0.8979},{"g":5,"d":0.12,"x":0.03395,"y":0.8949},{"g":5,"d":0.12,"x":0.03401,"y":0.8919},
{"g":6,"d":0.12,"x":0.03449,"y":0.8764},{"g":6,"d":0.12,"x":0.03433,"y":0.8861},{"g":6,"d":0.12,"x":0.03417,"y":0.8764},{"g":6,"d":0.12,"x":0.03433,"y":0.8667},
{"g":7,"d":0.12,"x":0.03059,"y":0.882},{"g":7,"d":0.12,"x":0.03047,"y":0.8895},{"g":7,"d":0.12,"x":0.03035,"y":0.882},{"g":7,"d":0.12,"x":0.03047,"y":0.8745},
{"g":8,"d":0.12,"x":0.02885,"y":0.8473},{"g":8,"d":0.12,"x":0.02881,"y":0.8488},{"g":8,"d":0.12,"x":0.02877,"y":0.8473},{"g":8,"d":0.12,"x":0.02881,"y":0.8458},
{"g":9,"d":0.235,"x":0.03228,"y":1.0604},{"g":9,"d":0.235,"x":0.03216,"y":1.0491},{"g":9,"d":0.235,"x":0.03213,"y":1.0318},{"g":9,"d":0.235,"x":0.03198,"y":1.0233},{"g":9,"d":0.235,"x":0.03174,"y":1.0189},{"g":9,"d":0.235,"x":0.03156,"y":1.0104},{"g":9,"d":0.235,"x":0.03156,"y":1.0039},{"g":9,"d":0.235,"x":0.03123,"y":1.0007},{"g":9,"d":0.235,"x":0.03111,"y":0.9889},{"g":9,"d":0.235,"x":0.03108,"y":0.9695},{"g":9,"d":0.235,"x":0.03093,"y":0.9437},{"g":9,"d":0.235,"x":0.03093,"y":0.9351},{"g":9,"d":0.235,"x":0.03108,"y":0.9233},{"g":9,"d":0.235,"x":0.03083,"y":0.9237},{"g":9,"d":0.235,"x":0.03065,"y":0.9179},{"g":9,"d":0.235,"x":0.03071,"y":0.9007},{"g":9,"d":0.235,"x":0.03083,"y":0.899},{"g":9,"d":0.235,"x":0.03108,"y":0.9007},{"g":9,"d":0.235,"x":0.03126,"y":0.8943},{"g":9,"d":0.235,"x":0.03132,"y":0.8792},{"g":9,"d":0.235,"x":0.03114,"y":0.8685},{"g":9,"d":0.235,"x":0.03095,"y":0.8764},{"g":9,"d":0.235,"x":0.0308,"y":0.8685},{"g":9,"d":0.235,"x":0.03102,"y":0.8545},{"g":9,"d":0.235,"x":0.03132,"y":0.8599},{"g":9,"d":0.235,"x":0.03156,"y":0.8641},{"g":9,"d":0.235,"x":0.0318,"y":0.8695},{"g":9,"d":0.235,"x":0.03165,"y":0.8641},{"g":9,"d":0.235,"x":0.03192,"y":0.8555},{"g":9,"d":0.235,"x":0.03216,"y":0.8566},{"g":9,"d":0.235,"x":0.03234,"y":0.8674},{"g":9,"d":0.235,"x":0.03283,"y":0.8749},{"g":9,"d":0.235,"x":0.03313,"y":0.8846},{"g":9,"d":0.235,"x":0.03343,"y":0.8975},{"g":9,"d":0.235,"x":0.0337,"y":0.8996},{"g":9,"d":0.235,"x":0.03376,"y":0.9072},{"g":9,"d":0.235,"x":0.03364,"y":0.9158},{"g":9,"d":0.235,"x":0.03397,"y":0.933},{"g":9,"d":0.235,"x":0.034,"y":0.9523},{"g":9,"d":0.235,"x":0.03397,"y":0.9695},{"g":9,"d":0.235,"x":0.03391,"y":0.9888},{"g":9,"d":0.235,"x":0.03397,"y":1.0039},{"g":9,"d":0.235,"x":0.03397,"y":1.0297},{"g":9,"d":0.235,"x":0.03388,"y":1.0351},{"g":9,"d":0.235,"x":0.03373,"y":1.0318},{"g":9,"d":0.235,"x":0.03361,"y":1.0265},{"g":9,"d":0.235,"x":0.03331,"y":1.0297},{"g":9,"d":0.235,"x":0.03313,"y":1.0351},{"g":9,"d":0.235,"x":0.03283,"y":1.0276},{"g":9,"d":0.235,"x":0.0327,"y":1.0383},{"g":9,"d":0.235,"x":0.03267,"y":1.0491},{"g":9,"d":0.235,"x":0.03243,"y":1.0555},
{"g":10,"d":0.235,"x":0.03134,"y":1.0207},{"g":10,"d":0.235,"x":0.03118,"y":1.0325},{"g":10,"d":0.235,"x":0.03102,"y":1.0207},{"g":10,"d":0.235,"x":0.03118,"y":1.0089},
{"g":11,"d":0.37,"x":0.0313,"y":1.0207},{"g":11,"d":0.37,"x":0.03118,"y":1.0289},{"g":11,"d":0.37,"x":0.03106,"y":1.0207},{"g":11,"d":0.37,"x":0.03118,"y":1.0125},
{"g":12,"d":0.5,"x":0.03125,"y":1.0207},{"g":12,"d":0.5,"x":0.03118,"y":1.025},{"g":12,"d":0.5,"x":0.03111,"y":1.0207},{"g":12,"d":0.5,"x":0.03118,"y":1.0164},
{"g":13,"d":0.235,"x":0.03443,"y":0.8764},{"g":13,"d":0.235,"x":0.03433,"y":0.8801},{"g":13,"d":0.235,"x":0.03423,"y":0.8764},{"g":13,"d":0.235,"x":0.03433,"y":0.8727},
{"g":14,"d":0.37,"x":0.03389,"y":1.025},{"g":14,"d":0.37,"x":0.0338,"y":1.0315},{"g":14,"d":0.37,"x":0.03371,"y":1.025},{"g":14,"d":0.37,"x":0.0338,"y":1.0185},
{"g":15,"d":0.37,"x":0.03086,"y":0.9142},{"g":15,"d":0.37,"x":0.0308,"y":0.9179},{"g":15,"d":0.37,"x":0.03074,"y":0.9142},{"g":15,"d":0.37,"x":0.0308,"y":0.9105},
{"g":16,"d":0.37,"x":0.03253,"y":1.0426},{"g":16,"d":0.37,"x":0.0325,"y":1.0443},{"g":16,"d":0.37,"x":0.03247,"y":1.0426},{"g":16,"d":0.37,"x":0.0325,"y":1.0409},
{"g":17,"d":0.37,"x":0.03255,"y":1.0366},{"g":17,"d":0.37,"x":0.03237,"y":1.0254},{"g":17,"d":0.37,"x":0.03225,"y":1.0147},{"g":17,"d":0.37,"x":0.03198,"y":1.0136},{"g":17,"d":0.37,"x":0.03177,"y":1.0114},{"g":17,"d":0.37,"x":0.03177,"y":1.0039},{"g":17,"d":0.37,"x":0.03183,"y":0.9974},{"g":17,"d":0.37,"x":0.03168,"y":0.9932},{"g":17,"d":0.37,"x":0.0315,"y":0.9959},{"g":17,"d":0.37,"x":0.03129,"y":0.9953},{"g":17,"d":0.37,"x":0.03117,"y":0.9888},{"g":17,"d":0.37,"x":0.03111,"y":0.9609},{"g":17,"d":0.37,"x":0.03093,"y":0.9394},{"g":17,"d":0.37,"x":0.03117,"y":0.9265},{"g":17,"d":0.37,"x":0.03117,"y":0.9114},{"g":17,"d":0.37,"x":0.03144,"y":0.9061},{"g":17,"d":0.37,"x":0.03156,"y":0.8964},{"g":17,"d":0.37,"x":0.03189,"y":0.8792},{"g":17,"d":0.37,"x":0.03198,"y":0.8631},{"g":17,"d":0.37,"x":0.0321,"y":0.8616},{"g":17,"d":0.37,"x":0.03218,"y":0.8695},{"g":17,"d":0.37,"x":0.03219,"y":0.8846},{"g":17,"d":0.37,"x":0.0324,"y":0.8792},{"g":17,"d":0.37,"x":0.03264,"y":0.8857},{"g":17,"d":0.37,"x":0.033,"y":0.8835},{"g":17,"d":0.37,"x":0.03328,"y":0.89},{"g":17,"d":0.37,"x":0.03349,"y":0.9007},{"g":17,"d":0.37,"x":0.03364,"y":0.8996},{"g":17,"d":0.37,"x":0.03376,"y":0.9072},{"g":17,"d":0.37,"x":0.0337,"y":0.9136},{"g":17,"d":0.37,"x":0.03346,"y":0.919},{"g":17,"d":0.37,"x":0.03367,"y":0.933},{"g":17,"d":0.37,"x":0.03364,"y":0.9588},{"g":17,"d":0.37,"x":0.03367,"y":0.9867},{"g":17,"d":0.37,"x":0.03382,"y":0.9899},{"g":17,"d":0.37,"x":0.03366,"y":0.9996},{"g":17,"d":0.37,"x":0.03366,"y":1.0125},{"g":17,"d":0.37,"x":0.03346,"y":1.02},{"g":17,"d":0.37,"x":0.03313,"y":1.0211},{"g":17,"d":0.37,"x":0.03283,"y":1.0276},
{"g":18,"d":0.5,"x":0.03254,"y":1.0211},{"g":18,"d":0.5,"x":0.03249,"y":1.0245},{"g":18,"d":0.5,"x":0.03244,"y":1.0211},{"g":18,"d":0.5,"x":0.03249,"y":1.0177},
{"g":19,"d":0.5,"x":0.03292,"y":1.0194},{"g":19,"d":0.5,"x":0.03277,"y":1.0104},{"g":19,"d":0.5,"x":0.03255,"y":1.0028},{"g":19,"d":0.5,"x":0.03234,"y":1.0071},{"g":19,"d":0.5,"x":0.0321,"y":1.0039},{"g":19,"d":0.5,"x":0.03204,"y":0.9888},{"g":19,"d":0.5,"x":0.03198,"y":0.9738},{"g":19,"d":0.5,"x":0.03177,"y":0.9706},{"g":19,"d":0.5,"x":0.03162,"y":0.9792},{"g":19,"d":0.5,"x":0.03153,"y":0.9906},{"g":19,"d":0.5,"x":0.03144,"y":0.9867},{"g":19,"d":0.5,"x":0.03135,"y":0.9695},{"g":19,"d":0.5,"x":0.03114,"y":0.9502},{"g":19,"d":0.5,"x":0.03108,"y":0.9437},{"g":19,"d":0.5,"x":0.0312,"y":0.9244},{"g":19,"d":0.5,"x":0.03135,"y":0.9093},{"g":19,"d":0.5,"x":0.03156,"y":0.905},{"g":19,"d":0.5,"x":0.03192,"y":0.8867},{"g":19,"d":0.5,"x":0.03207,"y":0.8921},{"g":19,"d":0.5,"x":0.03231,"y":0.8857},{"g":19,"d":0.5,"x":0.03249,"y":0.8857},{"g":19,"d":0.5,"x":0.03268,"y":0.891},{"g":19,"d":0.5,"x":0.03289,"y":0.8943},{"g":19,"d":0.5,"x":0.03316,"y":0.9061},{"g":19,"d":0.5,"x":0.03343,"y":0.9265},{"g":19,"d":0.5,"x":0.03337,"y":0.9416},{"g":19,"d":0.5,"x":0.03346,"y":0.9523},{"g":19,"d":0.5,"x":0.03343,"y":0.9674},{"g":19,"d":0.5,"x":0.03364,"y":0.9738},{"g":19,"d":0.5,"x":0.03361,"y":0.9888},{"g":19,"d":0.5,"x":0.03358,"y":0.9974},{"g":19,"d":0.5,"x":0.03343,"y":1.0104},{"g":19,"d":0.5,"x":0.03313,"y":1.0147},
{"g":20,"d":0.62,"x":0.03293,"y":1.0131},{"g":20,"d":0.62,"x":0.03276,"y":1.005},{"g":20,"d":0.62,"x":0.03255,"y":0.9953},{"g":20,"d":0.62,"x":0.03228,"y":0.9878},{"g":20,"d":0.62,"x":0.03207,"y":0.9803},{"g":20,"d":0.62,"x":0.03198,"y":0.9727},{"g":20,"d":0.62,"x":0.03174,"y":0.9673},{"g":20,"d":0.62,"x":0.03147,"y":0.9706},{"g":20,"d":0.62,"x":0.03144,"y":0.962},{"g":20,"d":0.62,"x":0.03153,"y":0.9555},{"g":20,"d":0.62,"x":0.03126,"y":0.9437},{"g":20,"d":0.62,"x":0.03114,"y":0.9383},{"g":20,"d":0.62,"x":0.03132,"y":0.9287},{"g":20,"d":0.62,"x":0.03147,"y":0.9233},{"g":20,"d":0.62,"x":0.03162,"y":0.9136},{"g":20,"d":0.62,"x":0.03177,"y":0.8964},{"g":20,"d":0.62,"x":0.03186,"y":0.8958},{"g":20,"d":0.62,"x":0.03198,"y":0.9018},{"g":20,"d":0.62,"x":0.03216,"y":0.8953},{"g":20,"d":0.62,"x":0.0324,"y":0.8943},{"g":20,"d":0.62,"x":0.03268,"y":0.8986},{"g":20,"d":0.62,"x":0.03283,"y":0.8953},{"g":20,"d":0.62,"x":0.03295,"y":0.9007},{"g":20,"d":0.62,"x":0.03319,"y":0.9179},{"g":20,"d":0.62,"x":0.03328,"y":0.9287},{"g":20,"d":0.62,"x":0.03334,"y":0.9437},{"g":20,"d":0.62,"x":0.03343,"y":0.9523},{"g":20,"d":0.62,"x":0.03343,"y":0.9695},{"g":20,"d":0.62,"x":0.03358,"y":0.9803},{"g":20,"d":0.62,"x":0.03354,"y":0.9888},{"g":20,"d":0.62,"x":0.03349,"y":0.9974},{"g":20,"d":0.62,"x":0.03319,"y":1.005},
{"g":21,"d":0.69,"x":0.03285,"y":1.0035},{"g":21,"d":0.69,"x":0.03255,"y":0.9942},{"g":21,"d":0.69,"x":0.03225,"y":0.9846},{"g":21,"d":0.69,"x":0.0321,"y":0.9781},{"g":21,"d":0.69,"x":0.0321,"y":0.9706},{"g":21,"d":0.69,"x":0.03165,"y":0.9641},{"g":21,"d":0.69,"x":0.03165,"y":0.9523},{"g":21,"d":0.69,"x":0.03162,"y":0.9437},{"g":21,"d":0.69,"x":0.03174,"y":0.9372},{"g":21,"d":0.69,"x":0.03174,"y":0.9244},{"g":21,"d":0.69,"x":0.03195,"y":0.9061},{"g":21,"d":0.69,"x":0.0321,"y":0.9093},{"g":21,"d":0.69,"x":0.03252,"y":0.9168},{"g":21,"d":0.69,"x":0.03264,"y":0.9061},{"g":21,"d":0.69,"x":0.03283,"y":0.9104},{"g":21,"d":0.69,"x":0.03316,"y":0.9287},{"g":21,"d":0.69,"x":0.03313,"y":0.933},{"g":21,"d":0.69,"x":0.03337,"y":0.9458},{"g":21,"d":0.69,"x":0.03325,"y":0.9566},{"g":21,"d":0.69,"x":0.0331,"y":0.9695},{"g":21,"d":0.69,"x":0.03325,"y":0.9781},{"g":21,"d":0.69,"x":0.03343,"y":0.9792},{"g":21,"d":0.69,"x":0.03346,"y":0.9867},{"g":21,"d":0.69,"x":0.03319,"y":0.9932},{"g":21,"d":0.69,"x":0.03301,"y":0.9985},
{"g":22,"d":0.69,"x":0.03144,"y":0.934},{"g":22,"d":0.69,"x":0.03137,"y":0.9379},{"g":22,"d":0.69,"x":0.0313,"y":0.934},{"g":22,"d":0.69,"x":0.03137,"y":0.9301},
{"g":23,"d":0.78,"x":0.03276,"y":0.9996},{"g":23,"d":0.78,"x":0.03261,"y":0.9888},{"g":23,"d":0.78,"x":0.03234,"y":0.9824},{"g":23,"d":0.78,"x":0.03216,"y":0.977},{"g":23,"d":0.78,"x":0.03215,"y":0.9663},{"g":23,"d":0.78,"x":0.03165,"y":0.9609},{"g":23,"d":0.78,"x":0.03162,"y":0.9523},{"g":23,"d":0.78,"x":0.03171,"y":0.9437},{"g":23,"d":0.78,"x":0.03177,"y":0.934},{"g":23,"d":0.78,"x":0.03186,"y":0.9254},{"g":23,"d":0.78,"x":0.03204,"y":0.9222},{"g":23,"d":0.78,"x":0.0324,"y":0.9248},{"g":23,"d":0.78,"x":0.03268,"y":0.9233},{"g":23,"d":0.78,"x":0.03283,"y":0.911},{"g":23,"d":0.78,"x":0.03292,"y":0.9201},{"g":23,"d":0.78,"x":0.03313,"y":0.9244},{"g":23,"d":0.78,"x":0.03307,"y":0.9351},{"g":23,"d":0.78,"x":0.0327,"y":0.9437},{"g":23,"d":0.78,"x":0.03252,"y":0.9555},{"g":23,"d":0.78,"x":0.03258,"y":0.9609},{"g":23,"d":0.78,"x":0.03303,"y":0.9674},{"g":23,"d":0.78,"x":0.033,"y":0.991},{"g":23,"d":0.78,"x":0.03285,"y":0.9985},
{"g":24,"d":0.69,"x":0.03245,"y":0.9104},{"g":24,"d":0.69,"x":0.0323,"y":0.9179},{"g":24,"d":0.69,"x":0.03215,"y":0.9104},{"g":24,"d":0.69,"x":0.0323,"y":0.9029},
{"g":25,"d":0.9,"x":0.03276,"y":0.9942},{"g":25,"d":0.9,"x":0.03271,"y":0.9867},{"g":25,"d":0.9,"x":0.03255,"y":0.9803},{"g":25,"d":0.9,"x":0.03252,"y":0.9716},{"g":25,"d":0.9,"x":0.03258,"y":0.9619},{"g":25,"d":0.9,"x":0.03292,"y":0.9684},{"g":25,"d":0.9,"x":0.03292,"y":0.9781},{"g":25,"d":0.9,"x":0.03279,"y":0.9867},
{"g":26,"d":0.9,"x":0.03252,"y":0.9555},{"g":26,"d":0.9,"x":0.03234,"y":0.9519},{"g":26,"d":0.9,"x":0.0321,"y":0.9598},{"g":26,"d":0.9,"x":0.0318,"y":0.9587},{"g":26,"d":0.9,"x":0.03171,"y":0.9501},{"g":26,"d":0.9,"x":0.03177,"y":0.9394},{"g":26,"d":0.9,"x":0.03189,"y":0.9265},{"g":26,"d":0.9,"x":0.03198,"y":0.9233},{"g":26,"d":0.9,"x":0.03222,"y":0.9287},{"g":26,"d":0.9,"x":0.03233,"y":0.9372},{"g":26,"d":0.9,"x":0.03234,"y":0.9426},{"g":26,"d":0.9,"x":0.03249,"y":0.9437},
{"g":27,"d":0.9,"x":0.03261,"y":0.9437},{"g":27,"d":0.9,"x":0.03269,"y":0.9244},{"g":27,"d":0.9,"x":0.03286,"y":0.924},{"g":27,"d":0.9,"x":0.03307,"y":0.9319},{"g":27,"d":0.9,"x":0.03289,"y":0.9383},
{"g":28,"d":1,"x":0.03282,"y":0.9742},{"g":28,"d":1,"x":0.03272,"y":0.9796},{"g":28,"d":1,"x":0.03262,"y":0.9742},{"g":28,"d":1,"x":0.03272,"y":0.9688},
{"g":29,"d":1,"x":0.03203,"y":0.9519},{"g":29,"d":1,"x":0.03191,"y":0.9584},{"g":29,"d":1,"x":0.03179,"y":0.9519},{"g":29,"d":1,"x":0.03191,"y":0.9454},
{"g":30,"d":1,"x":0.03287,"y":0.9325},{"g":30,"d":1,"x":0.03279,"y":0.9372},{"g":30,"d":1,"x":0.03271,"y":0.9325},{"g":30,"d":1,"x":0.03279,"y":0.9278}
]},"mark":{"type":"line","interpolate":"cardinal-closed","tension":-0.3,"stroke":"#e8eef2","strokeWidth":0.5,"strokeOpacity":0.5},"encoding":{"order":{"value":null},"detail":{"field":"g"},"x":{"field":"x","type":"quantitative","scale":{"domain":[0.03584,0.02832],"nice":false,"zero":false},"axis":{"title":"τ","titlePadding":11,"values":[0.034,0.032,0.03],"format":".3f"}},"y":{"field":"y","type":"quantitative","scale":{"domain":[0.7673,1.1888],"nice":false,"zero":false},"axis":{"orient":"right","title":"σ","titlePadding":14,"values":[0.8,0.9,1,1.1],"format":".1f"}},"fill":{"field":"d","type":"quantitative","legend":null,"scale":{"domain":[0,0.06,0.13,0.2,0.27,0.34,0.41,0.48,0.55,0.62,0.69,0.76,0.83,0.9,1],"range":["#ffffff","#f9fae9","#eef1d2","#dfe3b6","#bcc695","#a0b088","#8aa384","#74958a","#648c90","#55809b","#44709c","#2a558f","#1c4285","#0f2a70","#010b4e"]}}}},
{"width":415.5,"height":653.5,"title":{"text":"2013-12 to 2017-12 (μ vs. α)","orient":"left","anchor":"middle","fontWeight":"bold","fontSize":19,"font":"Liberation Serif","offset":5.4},
"data":{"values":[
{"g":1,"d":0.12,"x":-1.406,"y":0.0091},{"g":1,"d":0.12,"x":-1.426,"y":0.007},{"g":1,"d":0.12,"x":-1.457,"y":0.0057},{"g":1,"d":0.12,"x":-1.482,"y":0.0029},{"g":1,"d":0.12,"x":-1.503,"y":0.0002},{"g":1,"d":0.12,"x":-1.508,"y":-0.0014},{"g":1,"d":0.12,"x":-1.539,"y":-0.002},{"g":1,"d":0.12,"x":-1.533,"y":-0.0047},{"g":1,"d":0.12,"x":-1.498,"y":-0.0053},{"g":1,"d":0.12,"x":-1.472,"y":-0.0082},{"g":1,"d":0.12,"x":-1.457,"y":-0.0102},{"g":1,"d":0.12,"x":-1.421,"y":-0.0112},{"g":1,"d":0.12,"x":-1.431,"y":-0.0125},{"g":1,"d":0.12,"x":-1.457,"y":-0.0139},{"g":1,"d":0.12,"x":-1.457,"y":-0.0155},{"g":1,"d":0.12,"x":-1.436,"y":-0.0162},{"g":1,"d":0.12,"x":-1.411,"y":-0.0164},{"g":1,"d":0.12,"x":-1.395,"y":-0.0196},{"g":1,"d":0.12,"x":-1.365,"y":-0.0219},{"g":1,"d":0.12,"x":-1.334,"y":-0.0231},{"g":1,"d":0.12,"x":-1.314,"y":-0.0258},{"g":1,"d":0.12,"x":-1.252,"y":-0.0286},{"g":1,"d":0.12,"x":-1.191,"y":-0.0331},{"g":1,"d":0.12,"x":-1.14,"y":-0.0362},{"g":1,"d":0.12,"x":-1.14,"y":-0.0376},{"g":1,"d":0.12,"x":-1.114,"y":-0.0397},{"g":1,"d":0.12,"x":-1.07,"y":-0.0377},{"g":1,"d":0.12,"x":-1.043,"y":-0.038},{"g":1,"d":0.12,"x":-1.012,"y":-0.038},{"g":1,"d":0.12,"x":-0.997,"y":-0.0403},{"g":1,"d":0.12,"x":-0.971,"y":-0.0401},{"g":1,"d":0.12,"x":-0.961,"y":-0.0385},{"g":1,"d":0.12,"x":-0.936,"y":-0.038},{"g":1,"d":0.12,"x":-0.9,"y":-0.0405},{"g":1,"d":0.12,"x":-0.879,"y":-0.0395},{"g":1,"d":0.12,"x":-0.874,"y":-0.0376},{"g":1,"d":0.12,"x":-0.905,"y":-0.0348},{"g":1,"d":0.12,"x":-0.9,"y":-0.0323},{"g":1,"d":0.12,"x":-0.874,"y":-0.0303},{"g":1,"d":0.12,"x":-0.9,"y":-0.0282},{"g":1,"d":0.12,"x":-0.915,"y":-0.0245},{"g":1,"d":0.12,"x":-0.89,"y":-0.0215},{"g":1,"d":0.12,"x":-0.905,"y":-0.0202},{"g":1,"d":0.12,"x":-0.941,"y":-0.0182},{"g":1,"d":0.12,"x":-0.951,"y":-0.0151},{"g":1,"d":0.12,"x":-0.946,"y":-0.0135},{"g":1,"d":0.12,"x":-0.997,"y":-0.0094},{"g":1,"d":0.12,"x":-1.012,"y":-0.0065},{"g":1,"d":0.12,"x":-1.048,"y":-0.0041},{"g":1,"d":0.12,"x":-1.079,"y":-0.0033},{"g":1,"d":0.12,"x":-1.109,"y":0.0002},{"g":1,"d":0.12,"x":-1.15,"y":0.0037},{"g":1,"d":0.12,"x":-1.16,"y":0.0053},{"g":1,"d":0.12,"x":-1.196,"y":0.0067},{"g":1,"d":0.12,"x":-1.222,"y":0.0081},{"g":1,"d":0.12,"x":-1.242,"y":0.0076},{"g":1,"d":0.12,"x":-1.263,"y":0.0053},{"g":1,"d":0.12,"x":-1.293,"y":0.0074},{"g":1,"d":0.12,"x":-1.355,"y":0.0084},
{"g":2,"d":0.12,"x":-1.588,"y":0.0059},{"g":2,"d":0.12,"x":-1.605,"y":0.0075},{"g":2,"d":0.12,"x":-1.622,"y":0.0059},{"g":2,"d":0.12,"x":-1.605,"y":0.0043},
{"g":3,"d":0.12,"x":-1.532,"y":0.0037},{"g":3,"d":0.12,"x":-1.535,"y":0.0039},{"g":3,"d":0.12,"x":-1.538,"y":0.0037},{"g":3,"d":0.12,"x":-1.535,"y":0.0035},
{"g":4,"d":0.12,"x":-1.753,"y":0.0056},{"g":4,"d":0.12,"x":-1.762,"y":0.0064},{"g":4,"d":0.12,"x":-1.771,"y":0.0056},{"g":4,"d":0.12,"x":-1.762,"y":0.0048},
{"g":5,"d":0.235,"x":-1.339,"y":0.0058},{"g":5,"d":0.235,"x":-1.39,"y":0.0045},{"g":5,"d":0.235,"x":-1.421,"y":0.0039},{"g":5,"d":0.235,"x":-1.447,"y":0.0041},{"g":5,"d":0.235,"x":-1.462,"y":0.0024},{"g":5,"d":0.235,"x":-1.479,"y":-0.0004},{"g":5,"d":0.235,"x":-1.467,"y":-0.0016},{"g":5,"d":0.235,"x":-1.452,"y":0},{"g":5,"d":0.235,"x":-1.426,"y":0.0008},{"g":5,"d":0.235,"x":-1.416,"y":-0.0012},{"g":5,"d":0.235,"x":-1.436,"y":-0.0032},{"g":5,"d":0.235,"x":-1.457,"y":-0.0025},{"g":5,"d":0.235,"x":-1.477,"y":-0.0041},{"g":5,"d":0.235,"x":-1.457,"y":-0.007},{"g":5,"d":0.235,"x":-1.426,"y":-0.0094},{"g":5,"d":0.235,"x":-1.416,"y":-0.0112},{"g":5,"d":0.235,"x":-1.406,"y":-0.0135},{"g":5,"d":0.235,"x":-1.37,"y":-0.0164},{"g":5,"d":0.235,"x":-1.37,"y":-0.0196},{"g":5,"d":0.235,"x":-1.329,"y":-0.0202},{"g":5,"d":0.235,"x":-1.303,"y":-0.0221},{"g":5,"d":0.235,"x":-1.252,"y":-0.0274},{"g":5,"d":0.235,"x":-1.191,"y":-0.0307},{"g":5,"d":0.235,"x":-1.099,"y":-0.0362},{"g":5,"d":0.235,"x":-1.094,"y":-0.0358},{"g":5,"d":0.235,"x":-1.012,"y":-0.036},{"g":5,"d":0.235,"x":-0.966,"y":-0.037},{"g":5,"d":0.235,"x":-0.936,"y":-0.0368},{"g":5,"d":0.235,"x":-0.936,"y":-0.0348},{"g":5,"d":0.235,"x":-0.956,"y":-0.0331},{"g":5,"d":0.235,"x":-0.982,"y":-0.0325},{"g":5,"d":0.235,"x":-0.971,"y":-0.0315},{"g":5,"d":0.235,"x":-0.951,"y":-0.029},{"g":5,"d":0.235,"x":-0.951,"y":-0.0262},{"g":5,"d":0.235,"x":-0.971,"y":-0.0233},{"g":5,"d":0.235,"x":-0.961,"y":-0.0188},{"g":5,"d":0.235,"x":-1.002,"y":-0.0164},{"g":5,"d":0.235,"x":-1.002,"y":-0.0135},{"g":5,"d":0.235,"x":-1.007,"y":-0.0119},{"g":5,"d":0.235,"x":-1.043,"y":-0.0082},{"g":5,"d":0.235,"x":-1.109,"y":-0.0049},{"g":5,"d":0.235,"x":-1.12,"y":-0.0033},{"g":5,"d":0.235,"x":-1.16,"y":-0.0008},{"g":5,"d":0.235,"x":-1.176,"y":0.0014},{"g":5,"d":0.235,"x":-1.173,"y":0.0037},{"g":5,"d":0.235,"x":-1.212,"y":0.0046},{"g":5,"d":0.235,"x":-1.273,"y":0.0033},{"g":5,"d":0.235,"x":-1.314,"y":0.0051},
{"g":6,"d":0.37,"x":-1.407,"y":-0.0058},{"g":6,"d":0.37,"x":-1.419,"y":-0.005},{"g":6,"d":0.37,"x":-1.431,"y":-0.0058},{"g":6,"d":0.37,"x":-1.419,"y":-0.0066},
{"g":7,"d":0.37,"x":-1.339,"y":0.0043},{"g":7,"d":0.37,"x":-1.36,"y":0.0025},{"g":7,"d":0.37,"x":-1.398,"y":0.0014},{"g":7,"d":0.37,"x":-1.393,"y":-0.002},{"g":7,"d":0.37,"x":-1.395,"y":-0.0065},{"g":7,"d":0.37,"x":-1.353,"y":-0.0086},{"g":7,"d":0.37,"x":-1.377,"y":-0.0106},{"g":7,"d":0.37,"x":-1.344,"y":-0.0135},{"g":7,"d":0.37,"x":-1.339,"y":-0.0147},{"g":7,"d":0.37,"x":-1.303,"y":-0.0164},{"g":7,"d":0.37,"x":-1.298,"y":-0.0188},{"g":7,"d":0.37,"x":-1.252,"y":-0.0237},{"g":7,"d":0.37,"x":-1.247,"y":-0.0266},{"g":7,"d":0.37,"x":-1.171,"y":-0.0297},{"g":7,"d":0.37,"x":-1.155,"y":-0.0292},{"g":7,"d":0.37,"x":-1.13,"y":-0.0307},{"g":7,"d":0.37,"x":-1.074,"y":-0.0325},{"g":7,"d":0.37,"x":-1.079,"y":-0.0337},{"g":7,"d":0.37,"x":-1.058,"y":-0.0349},{"g":7,"d":0.37,"x":-1.022,"y":-0.0344},{"g":7,"d":0.37,"x":-1.012,"y":-0.0335},{"g":7,"d":0.37,"x":-1.002,"y":-0.0299},{"g":7,"d":0.37,"x":-0.976,"y":-0.0282},{"g":7,"d":0.37,"x":-0.971,"y":-0.0233},{"g":7,"d":0.37,"x":-0.976,"y":-0.0188},{"g":7,"d":0.37,"x":-0.997,"y":-0.0186},{"g":7,"d":0.37,"x":-1.012,"y":-0.0188},{"g":7,"d":0.37,"x":-1.033,"y":-0.0162},{"g":7,"d":0.37,"x":-1.068,"y":-0.0135},{"g":7,"d":0.37,"x":-1.043,"y":-0.0106},{"g":7,"d":0.37,"x":-1.058,"y":-0.0098},{"g":7,"d":0.37,"x":-1.114,"y":-0.0065},{"g":7,"d":0.37,"x":-1.181,"y":-0.0029},{"g":7,"d":0.37,"x":-1.232,"y":-0.0031},{"g":7,"d":0.37,"x":-1.252,"y":0.0012},{"g":7,"d":0.37,"x":-1.303,"y":0.0028},
{"g":8,"d":0.37,"x":-0.941,"y":-0.0351},{"g":8,"d":0.37,"x":-0.963,"y":-0.0342},{"g":8,"d":0.37,"x":-0.985,"y":-0.0351},{"g":8,"d":0.37,"x":-0.963,"y":-0.036},
{"g":9,"d":0.5,"x":-1.324,"y":0.0025},{"g":9,"d":0.5,"x":-1.339,"y":0.001},{"g":9,"d":0.5,"x":-1.349,"y":0.0003},{"g":9,"d":0.5,"x":-1.37,"y":-0.0004},{"g":9,"d":0.5,"x":-1.375,"y":-0.0045},{"g":9,"d":0.5,"x":-1.349,"y":-0.0065},{"g":9,"d":0.5,"x":-1.344,"y":-0.009},{"g":9,"d":0.5,"x":-1.375,"y":-0.0106},{"g":9,"d":0.5,"x":-1.36,"y":-0.0127},{"g":9,"d":0.5,"x":-1.314,"y":-0.0147},{"g":9,"d":0.5,"x":-1.293,"y":-0.0153},{"g":9,"d":0.5,"x":-1.303,"y":-0.0176},{"g":9,"d":0.5,"x":-1.283,"y":-0.0205},{"g":9,"d":0.5,"x":-1.242,"y":-0.0254},{"g":9,"d":0.5,"x":-1.206,"y":-0.027},{"g":9,"d":0.5,"x":-1.171,"y":-0.0278},{"g":9,"d":0.5,"x":-1.176,"y":-0.0292},{"g":9,"d":0.5,"x":-1.145,"y":-0.0286},{"g":9,"d":0.5,"x":-1.079,"y":-0.0311},{"g":9,"d":0.5,"x":-1.053,"y":-0.0335},{"g":9,"d":0.5,"x":-1.033,"y":-0.0335},{"g":9,"d":0.5,"x":-1.028,"y":-0.0311},{"g":9,"d":0.5,"x":-1.002,"y":-0.0295},{"g":9,"d":0.5,"x":-0.985,"y":-0.0282},{"g":9,"d":0.5,"x":-0.985,"y":-0.0274},{"g":9,"d":0.5,"x":-1.007,"y":-0.025},{"g":9,"d":0.5,"x":-1.033,"y":-0.0209},{"g":9,"d":0.5,"x":-1.038,"y":-0.0176},{"g":9,"d":0.5,"x":-1.074,"y":-0.0147},{"g":9,"d":0.5,"x":-1.081,"y":-0.0125},{"g":9,"d":0.5,"x":-1.058,"y":-0.0111},{"g":9,"d":0.5,"x":-1.063,"y":-0.0096},{"g":9,"d":0.5,"x":-1.12,"y":-0.0074},{"g":9,"d":0.5,"x":-1.16,"y":-0.0053},{"g":9,"d":0.5,"x":-1.191,"y":-0.0029},{"g":9,"d":0.5,"x":-1.237,"y":-0.0033},{"g":9,"d":0.5,"x":-1.257,"y":0.0008},
{"g":10,"d":0.62,"x":-1.278,"y":0.0003},{"g":10,"d":0.62,"x":-1.293,"y":-0.0006},{"g":10,"d":0.62,"x":-1.303,"y":-0.0031},{"g":10,"d":0.62,"x":-1.355,"y":-0.0027},{"g":10,"d":0.62,"x":-1.349,"y":-0.0045},{"g":10,"d":0.62,"x":-1.329,"y":-0.0065},{"g":10,"d":0.62,"x":-1.339,"y":-0.0094},{"g":10,"d":0.62,"x":-1.344,"y":-0.0123},{"g":10,"d":0.62,"x":-1.293,"y":-0.0143},{"g":10,"d":0.62,"x":-1.273,"y":-0.0162},{"g":10,"d":0.62,"x":-1.283,"y":-0.0188},{"g":10,"d":0.62,"x":-1.252,"y":-0.0211},{"g":10,"d":0.62,"x":-1.222,"y":-0.0243},{"g":10,"d":0.62,"x":-1.166,"y":-0.0258},{"g":10,"d":0.62,"x":-1.166,"y":-0.0278},{"g":10,"d":0.62,"x":-1.099,"y":-0.029},{"g":10,"d":0.62,"x":-1.048,"y":-0.0274},{"g":10,"d":0.62,"x":-1.007,"y":-0.025},{"g":10,"d":0.62,"x":-0.982,"y":-0.0223},{"g":10,"d":0.62,"x":-0.997,"y":-0.0205},{"g":10,"d":0.62,"x":-1.028,"y":-0.0199},{"g":10,"d":0.62,"x":-1.048,"y":-0.0176},{"g":10,"d":0.62,"x":-1.079,"y":-0.0155},{"g":10,"d":0.62,"x":-1.099,"y":-0.0139},{"g":10,"d":0.62,"x":-1.12,"y":-0.0094},{"g":10,"d":0.62,"x":-1.15,"y":-0.0057},{"g":10,"d":0.62,"x":-1.232,"y":-0.0041},{"g":10,"d":0.62,"x":-1.257,"y":-0.0004},
{"g":11,"d":0.69,"x":-1.334,"y":-0.0041},{"g":11,"d":0.69,"x":-1.344,"y":-0.0053},{"g":11,"d":0.69,"x":-1.319,"y":-0.0074},{"g":11,"d":0.69,"x":-1.329,"y":-0.0098},{"g":11,"d":0.69,"x":-1.324,"y":-0.0119},{"g":11,"d":0.69,"x":-1.283,"y":-0.0141},{"g":11,"d":0.69,"x":-1.263,"y":-0.0162},{"g":11,"d":0.69,"x":-1.247,"y":-0.0188},{"g":11,"d":0.69,"x":-1.217,"y":-0.0233},{"g":11,"d":0.69,"x":-1.16,"y":-0.0254},{"g":11,"d":0.69,"x":-1.135,"y":-0.0262},{"g":11,"d":0.69,"x":-1.12,"y":-0.0278},{"g":11,"d":0.69,"x":-1.104,"y":-0.028},{"g":11,"d":0.69,"x":-1.079,"y":-0.027},{"g":11,"d":0.69,"x":-1.033,"y":-0.0254},{"g":11,"d":0.69,"x":-1.012,"y":-0.0237},{"g":11,"d":0.69,"x":-1.012,"y":-0.0217},{"g":11,"d":0.69,"x":-1.033,"y":-0.0211},{"g":11,"d":0.69,"x":-1.063,"y":-0.0182},{"g":11,"d":0.69,"x":-1.089,"y":-0.0164},{"g":11,"d":0.69,"x":-1.099,"y":-0.0147},{"g":11,"d":0.69,"x":-1.125,"y":-0.0106},{"g":11,"d":0.69,"x":-1.155,"y":-0.0057},{"g":11,"d":0.69,"x":-1.232,"y":-0.0063},{"g":11,"d":0.69,"x":-1.303,"y":-0.0053},
{"g":12,"d":0.69,"x":-1.275,"y":-0.001},{"g":12,"d":0.69,"x":-1.283,"y":-0.0028},{"g":12,"d":0.69,"x":-1.289,"y":-0.0045},{"g":12,"d":0.69,"x":-1.28,"y":-0.003},
{"g":13,"d":0.78,"x":-1.252,"y":-0.0069},{"g":13,"d":0.78,"x":-1.303,"y":-0.0076},{"g":13,"d":0.78,"x":-1.314,"y":-0.009},{"g":13,"d":0.78,"x":-1.309,"y":-0.011},{"g":13,"d":0.78,"x":-1.283,"y":-0.0133},{"g":13,"d":0.78,"x":-1.242,"y":-0.0155},{"g":13,"d":0.78,"x":-1.217,"y":-0.0188},{"g":13,"d":0.78,"x":-1.196,"y":-0.0221},{"g":13,"d":0.78,"x":-1.186,"y":-0.0235},{"g":13,"d":0.78,"x":-1.155,"y":-0.0219},{"g":13,"d":0.78,"x":-1.135,"y":-0.0217},{"g":13,"d":0.78,"x":-1.099,"y":-0.0227},{"g":13,"d":0.78,"x":-1.033,"y":-0.0239},{"g":13,"d":0.78,"x":-1.02,"y":-0.0233},{"g":13,"d":0.78,"x":-1.028,"y":-0.0221},{"g":13,"d":0.78,"x":-1.089,"y":-0.0198},{"g":13,"d":0.78,"x":-1.089,"y":-0.0186},{"g":13,"d":0.78,"x":-1.079,"y":-0.0168},{"g":13,"d":0.78,"x":-1.109,"y":-0.0147},{"g":13,"d":0.78,"x":-1.15,"y":-0.0135},{"g":13,"d":0.78,"x":-1.166,"y":-0.0102},{"g":13,"d":0.78,"x":-1.186,"y":-0.0074},
{"g":14,"d":0.9,"x":-1.244,"y":-0.0076},{"g":14,"d":0.9,"x":-1.288,"y":-0.0088},{"g":14,"d":0.9,"x":-1.291,"y":-0.0106},{"g":14,"d":0.9,"x":-1.268,"y":-0.0129},{"g":14,"d":0.9,"x":-1.242,"y":-0.0143},{"g":14,"d":0.9,"x":-1.206,"y":-0.016},{"g":14,"d":0.9,"x":-1.196,"y":-0.0192},{"g":14,"d":0.9,"x":-1.176,"y":-0.0205},{"g":14,"d":0.9,"x":-1.135,"y":-0.0196},{"g":14,"d":0.9,"x":-1.104,"y":-0.0213},{"g":14,"d":0.9,"x":-1.089,"y":-0.0211},{"g":14,"d":0.9,"x":-1.099,"y":-0.0184},{"g":14,"d":0.9,"x":-1.104,"y":-0.0164},{"g":14,"d":0.9,"x":-1.16,"y":-0.0143},{"g":14,"d":0.9,"x":-1.186,"y":-0.0119},{"g":14,"d":0.9,"x":-1.206,"y":-0.009},
{"g":15,"d":0.78,"x":-1.232,"y":-0.0129},{"g":15,"d":0.78,"x":-1.244,"y":-0.0113},{"g":15,"d":0.78,"x":-1.256,"y":-0.0129},{"g":15,"d":0.78,"x":-1.244,"y":-0.0145},
{"g":16,"d":1,"x":-1.233,"y":-0.0093},{"g":16,"d":1,"x":-1.25,"y":-0.0083},{"g":16,"d":1,"x":-1.267,"y":-0.0093},{"g":16,"d":1,"x":-1.25,"y":-0.0103},
{"g":17,"d":1,"x":-1.197,"y":-0.0117},{"g":17,"d":1,"x":-1.209,"y":-0.0105},{"g":17,"d":1,"x":-1.221,"y":-0.0117},{"g":17,"d":1,"x":-1.209,"y":-0.0129},
{"g":18,"d":1,"x":-1.181,"y":-0.0152},{"g":18,"d":1,"x":-1.203,"y":-0.0164},{"g":18,"d":1,"x":-1.196,"y":-0.0188},{"g":18,"d":1,"x":-1.169,"y":-0.0194},{"g":18,"d":1,"x":-1.109,"y":-0.0184},{"g":18,"d":1,"x":-1.107,"y":-0.0174},{"g":18,"d":1,"x":-1.15,"y":-0.0162}
]},"mark":{"type":"line","interpolate":"cardinal-closed","tension":-0.3,"stroke":"#e8eef2","strokeWidth":0.5,"strokeOpacity":0.5},"encoding":{"order":{"value":null},"detail":{"field":"g"},"x":{"field":"x","type":"quantitative","scale":{"domain":[-0.5732,-1.8465],"nice":false,"zero":false},"axis":{"title":"α","titlePadding":11,"values":[-0.75,-1,-1.25,-1.5,-1.75],"format":".2f"}},"y":{"field":"y","type":"quantitative","scale":{"domain":[-0.05288,0.0273],"nice":false,"zero":false},"axis":{"orient":"right","title":"μ","titlePadding":14,"values":[-0.04,-0.02,0,0.02],"format":".2f"}},"fill":{"field":"d","type":"quantitative","legend":null,"scale":{"domain":[0,0.06,0.13,0.2,0.27,0.34,0.41,0.48,0.55,0.62,0.69,0.76,0.83,0.9,1],"range":["#ffffff","#f9fae9","#eef1d2","#dfe3b6","#bcc695","#a0b088","#8aa384","#74958a","#648c90","#55809b","#44709c","#2a558f","#1c4285","#0f2a70","#010b4e"]}}}},
{"width":415.3,"height":653.5,"title":{"text":"2013-12 to 2017-12 (σ vs. τ)","orient":"left","anchor":"middle","fontWeight":"bold","fontSize":19,"font":"Liberation Serif","offset":5.4},
"data":{"values":[
{"g":1,"d":0.12,"x":0.03169,"y":1.0306},{"g":1,"d":0.12,"x":0.03164,"y":1.0329},{"g":1,"d":0.12,"x":0.03154,"y":1.0294},{"g":1,"d":0.12,"x":0.0313,"y":1.0352},{"g":1,"d":0.12,"x":0.03107,"y":1.0322},{"g":1,"d":0.12,"x":0.03064,"y":1.034},{"g":1,"d":0.12,"x":0.03051,"y":1.0271},{"g":1,"d":0.12,"x":0.03037,"y":1.0191},{"g":1,"d":0.12,"x":0.03018,"y":1.0214},{"g":1,"d":0.12,"x":0.03002,"y":1.0133},{"g":1,"d":0.12,"x":0.02998,"y":0.9949},{"g":1,"d":0.12,"x":0.02959,"y":0.9811},{"g":1,"d":0.12,"x":0.02942,"y":0.9846},{"g":1,"d":0.12,"x":0.02929,"y":0.98},{"g":1,"d":0.12,"x":0.02939,"y":0.9696},{"g":1,"d":0.12,"x":0.02926,"y":0.9581},{"g":1,"d":0.12,"x":0.02893,"y":0.9547},{"g":1,"d":0.12,"x":0.0287,"y":0.9237},{"g":1,"d":0.12,"x":0.02863,"y":0.9168},{"g":1,"d":0.12,"x":0.02873,"y":0.9076},{"g":1,"d":0.12,"x":0.02863,"y":0.8984},{"g":1,"d":0.12,"x":0.02843,"y":0.8915},{"g":1,"d":0.12,"x":0.02846,"y":0.8823},{"g":1,"d":0.12,"x":0.02856,"y":0.8742},{"g":1,"d":0.12,"x":0.02843,"y":0.865},{"g":1,"d":0.12,"x":0.02827,"y":0.8685},{"g":1,"d":0.12,"x":0.02817,"y":0.8719},{"g":1,"d":0.12,"x":0.02807,"y":0.8662},{"g":1,"d":0.12,"x":0.02817,"y":0.8501},{"g":1,"d":0.12,"x":0.02846,"y":0.8409},{"g":1,"d":0.12,"x":0.0285,"y":0.834},{"g":1,"d":0.12,"x":0.02883,"y":0.8248},{"g":1,"d":0.12,"x":0.0288,"y":0.8179},{"g":1,"d":0.12,"x":0.02893,"y":0.8156},{"g":1,"d":0.12,"x":0.02922,"y":0.8259},{"g":1,"d":0.12,"x":0.02939,"y":0.8225},{"g":1,"d":0.12,"x":0.02965,"y":0.8191},{"g":1,"d":0.12,"x":0.02992,"y":0.8259},{"g":1,"d":0.12,"x":0.03015,"y":0.8236},{"g":1,"d":0.12,"x":0.03028,"y":0.8386},{"g":1,"d":0.12,"x":0.03055,"y":0.8455},{"g":1,"d":0.12,"x":0.03084,"y":0.8501},{"g":1,"d":0.12,"x":0.03107,"y":0.8662},{"g":1,"d":0.12,"x":0.0315,"y":0.8731},{"g":1,"d":0.12,"x":0.0318,"y":0.8834},{"g":1,"d":0.12,"x":0.032,"y":0.8892},{"g":1,"d":0.12,"x":0.03203,"y":0.9145},{"g":1,"d":0.12,"x":0.03197,"y":0.9214},{"g":1,"d":0.12,"x":0.03216,"y":0.9271},{"g":1,"d":0.12,"x":0.0321,"y":0.9375},{"g":1,"d":0.12,"x":0.03203,"y":0.9513},{"g":1,"d":0.12,"x":0.03223,"y":0.9616},{"g":1,"d":0.12,"x":0.032,"y":0.9834},{"g":1,"d":0.12,"x":0.03203,"y":0.9972},{"g":1,"d":0.12,"x":0.0318,"y":1.0122},{"g":1,"d":0.12,"x":0.0316,"y":1.0214},
{"g":2,"d":0,"x":0.02877,"y":0.8471},{"g":2,"d":0,"x":0.02867,"y":0.8511},{"g":2,"d":0,"x":0.02857,"y":0.8471},{"g":2,"d":0,"x":0.02867,"y":0.8431},
{"g":3,"d":0,"x":0.029,"y":0.8358},{"g":3,"d":0,"x":0.02893,"y":0.8388},{"g":3,"d":0,"x":0.02886,"y":0.8358},{"g":3,"d":0,"x":0.02893,"y":0.8328},
{"g":4,"d":0.12,"x":0.03183,"y":1.0582},{"g":4,"d":0.12,"x":0.03179,"y":1.0536},{"g":4,"d":0.12,"x":0.032,"y":1.0363},{"g":4,"d":0.12,"x":0.03216,"y":1.0335},{"g":4,"d":0.12,"x":0.03225,"y":1.0386},{"g":4,"d":0.12,"x":0.03213,"y":1.0524},
{"g":5,"d":0.12,"x":0.03257,"y":0.9644},{"g":5,"d":0.12,"x":0.03249,"y":0.9683},{"g":5,"d":0.12,"x":0.03241,"y":0.9644},{"g":5,"d":0.12,"x":0.03249,"y":0.9605},
{"g":6,"d":0.12,"x":0.02843,"y":0.9374},{"g":6,"d":0.12,"x":0.02836,"y":0.9294},{"g":6,"d":0.12,"x":0.02846,"y":0.9202},{"g":6,"d":0.12,"x":0.02856,"y":0.9225},{"g":6,"d":0.12,"x":0.0285,"y":0.9306},
{"g":7,"d":0.12,"x":0.02773,"y":0.857},{"g":7,"d":0.12,"x":0.02755,"y":0.865},{"g":7,"d":0.12,"x":0.02737,"y":0.857},{"g":7,"d":0.12,"x":0.02755,"y":0.849},
{"g":8,"d":0.37,"x":0.0276,"y":0.857},{"g":8,"d":0.37,"x":0.02753,"y":0.8602},{"g":8,"d":0.37,"x":0.02746,"y":0.857},{"g":8,"d":0.37,"x":0.02753,"y":0.8538},
{"g":9,"d":0.12,"x":0.02629,"y":0.8188},{"g":9,"d":0.12,"x":0.02621,"y":0.8223},{"g":9,"d":0.12,"x":0.02613,"y":0.8188},{"g":9,"d":0.12,"x":0.02621,"y":0.8153},
{"g":10,"d":0.12,"x":0.03293,"y":1.1388},{"g":10,"d":0.12,"x":0.03283,"y":1.1443},{"g":10,"d":0.12,"x":0.03273,"y":1.1388},{"g":10,"d":0.12,"x":0.03283,"y":1.1333},
{"g":11,"d":0.235,"x":0.03072,"y":1.0267},{"g":11,"d":0.235,"x":0.03064,"y":1.0225},{"g":11,"d":0.235,"x":0.03061,"y":1.0122},{"g":11,"d":0.235,"x":0.03038,"y":1.0018},{"g":11,"d":0.235,"x":0.03018,"y":0.9961},{"g":11,"d":0.235,"x":0.02998,"y":0.9857},{"g":11,"d":0.235,"x":0.02972,"y":0.9719},{"g":11,"d":0.235,"x":0.02945,"y":0.9558},{"g":11,"d":0.235,"x":0.02922,"y":0.9443},{"g":11,"d":0.235,"x":0.02906,"y":0.9237},{"g":11,"d":0.235,"x":0.02916,"y":0.9076},{"g":11,"d":0.235,"x":0.02939,"y":0.9018},{"g":11,"d":0.235,"x":0.02893,"y":0.888},{"g":11,"d":0.235,"x":0.02889,"y":0.8777},{"g":11,"d":0.235,"x":0.02893,"y":0.8696},{"g":11,"d":0.235,"x":0.02881,"y":0.8616},{"g":11,"d":0.235,"x":0.02889,"y":0.8581},{"g":11,"d":0.235,"x":0.02906,"y":0.8627},{"g":11,"d":0.235,"x":0.02916,"y":0.8547},{"g":11,"d":0.235,"x":0.02949,"y":0.8524},{"g":11,"d":0.235,"x":0.02959,"y":0.846},{"g":11,"d":0.235,"x":0.02972,"y":0.8466},{"g":11,"d":0.235,"x":0.02982,"y":0.8542},{"g":11,"d":0.235,"x":0.02998,"y":0.8489},{"g":11,"d":0.235,"x":0.03018,"y":0.8466},{"g":11,"d":0.235,"x":0.03045,"y":0.8524},{"g":11,"d":0.235,"x":0.03064,"y":0.857},{"g":11,"d":0.235,"x":0.03088,"y":0.8627},{"g":11,"d":0.235,"x":0.03124,"y":0.8765},{"g":11,"d":0.235,"x":0.03144,"y":0.8823},{"g":11,"d":0.235,"x":0.03163,"y":0.8915},{"g":11,"d":0.235,"x":0.03183,"y":0.9099},{"g":11,"d":0.235,"x":0.0318,"y":0.926},{"g":11,"d":0.235,"x":0.0319,"y":0.9444},{"g":11,"d":0.235,"x":0.0319,"y":0.9604},{"g":11,"d":0.235,"x":0.03177,"y":0.9765},{"g":11,"d":0.235,"x":0.03173,"y":0.9949},{"g":11,"d":0.235,"x":0.03124,"y":1.0018},{"g":11,"d":0.235,"x":0.03084,"y":1.0145},{"g":11,"d":0.235,"x":0.03101,"y":1.0214},
{"g":12,"d":0.235,"x":0.03125,"y":1.0214},{"g":12,"d":0.235,"x":0.03118,"y":1.0244},{"g":12,"d":0.235,"x":0.03111,"y":1.0214},{"g":12,"d":0.235,"x":0.03118,"y":1.0184},
{"g":13,"d":0.37,"x":0.02914,"y":0.8841},{"g":13,"d":0.37,"x":0.02908,"y":0.8871},{"g":13,"d":0.37,"x":0.02902,"y":0.8841},{"g":13,"d":0.37,"x":0.02908,"y":0.8811},
{"g":14,"d":0.37,"x":0.03072,"y":1.0069},{"g":14,"d":0.37,"x":0.03054,"y":0.9995},{"g":14,"d":0.37,"x":0.03028,"y":0.9938},{"g":14,"d":0.37,"x":0.03011,"y":0.9834},{"g":14,"d":0.37,"x":0.02975,"y":0.9708},{"g":14,"d":0.37,"x":0.02952,"y":0.9535},{"g":14,"d":0.37,"x":0.02932,"y":0.9398},{"g":14,"d":0.37,"x":0.02919,"y":0.9306},{"g":14,"d":0.37,"x":0.02919,"y":0.9179},{"g":14,"d":0.37,"x":0.02939,"y":0.903},{"g":14,"d":0.37,"x":0.02942,"y":0.9007},{"g":14,"d":0.37,"x":0.02949,"y":0.8788},{"g":14,"d":0.37,"x":0.02949,"y":0.8662},{"g":14,"d":0.37,"x":0.02955,"y":0.8528},{"g":14,"d":0.37,"x":0.02965,"y":0.8593},{"g":14,"d":0.37,"x":0.02975,"y":0.865},{"g":14,"d":0.37,"x":0.03005,"y":0.8662},{"g":14,"d":0.37,"x":0.03012,"y":0.8593},{"g":14,"d":0.37,"x":0.03051,"y":0.8639},{"g":14,"d":0.37,"x":0.03088,"y":0.8696},{"g":14,"d":0.37,"x":0.03117,"y":0.8823},{"g":14,"d":0.37,"x":0.03144,"y":0.8926},{"g":14,"d":0.37,"x":0.03154,"y":0.903},{"g":14,"d":0.37,"x":0.03131,"y":0.9168},{"g":14,"d":0.37,"x":0.0314,"y":0.926},{"g":14,"d":0.37,"x":0.0315,"y":0.9375},{"g":14,"d":0.37,"x":0.03167,"y":0.9444},{"g":14,"d":0.37,"x":0.03177,"y":0.9581},{"g":14,"d":0.37,"x":0.03167,"y":0.9627},{"g":14,"d":0.37,"x":0.03157,"y":0.988},{"g":14,"d":0.37,"x":0.03127,"y":0.9961},{"g":14,"d":0.37,"x":0.03107,"y":0.9949},{"g":14,"d":0.37,"x":0.03091,"y":0.9915},
{"g":15,"d":0.5,"x":0.03127,"y":0.9903},{"g":15,"d":0.5,"x":0.03117,"y":0.9811},{"g":15,"d":0.5,"x":0.03094,"y":0.9788},{"g":15,"d":0.5,"x":0.03064,"y":0.9846},{"g":15,"d":0.5,"x":0.03035,"y":0.9908},{"g":15,"d":0.5,"x":0.03018,"y":0.9834},{"g":15,"d":0.5,"x":0.03002,"y":0.9742},{"g":15,"d":0.5,"x":0.02975,"y":0.9662},{"g":15,"d":0.5,"x":0.02972,"y":0.9535},{"g":15,"d":0.5,"x":0.02955,"y":0.9489},{"g":15,"d":0.5,"x":0.02939,"y":0.9306},{"g":15,"d":0.5,"x":0.02952,"y":0.9133},{"g":15,"d":0.5,"x":0.02962,"y":0.9007},{"g":15,"d":0.5,"x":0.02945,"y":0.8823},{"g":15,"d":0.5,"x":0.02959,"y":0.8662},{"g":15,"d":0.5,"x":0.02979,"y":0.8696},{"g":15,"d":0.5,"x":0.03005,"y":0.8731},{"g":15,"d":0.5,"x":0.03031,"y":0.8765},{"g":15,"d":0.5,"x":0.03064,"y":0.8811},{"g":15,"d":0.5,"x":0.03084,"y":0.8915},{"g":15,"d":0.5,"x":0.03117,"y":0.8972},{"g":15,"d":0.5,"x":0.03124,"y":0.9145},{"g":15,"d":0.5,"x":0.03127,"y":0.9329},{"g":15,"d":0.5,"x":0.0314,"y":0.9535},{"g":15,"d":0.5,"x":0.0314,"y":0.9593},{"g":15,"d":0.5,"x":0.03124,"y":0.9754},{"g":15,"d":0.5,"x":0.0314,"y":0.9857},
{"g":16,"d":0.62,"x":0.03078,"y":0.9765},{"g":16,"d":0.62,"x":0.03058,"y":0.9754},{"g":16,"d":0.62,"x":0.03021,"y":0.9731},{"g":16,"d":0.62,"x":0.03011,"y":0.965},{"g":16,"d":0.62,"x":0.03021,"y":0.9535},{"g":16,"d":0.62,"x":0.03005,"y":0.9489},{"g":16,"d":0.62,"x":0.02989,"y":0.9535},{"g":16,"d":0.62,"x":0.02972,"y":0.9443},{"g":16,"d":0.62,"x":0.02959,"y":0.9329},{"g":16,"d":0.62,"x":0.02965,"y":0.9145},{"g":16,"d":0.62,"x":0.02975,"y":0.903},{"g":16,"d":0.62,"x":0.02979,"y":0.8892},{"g":16,"d":0.62,"x":0.02998,"y":0.88},{"g":16,"d":0.62,"x":0.03028,"y":0.8823},{"g":16,"d":0.62,"x":0.03058,"y":0.8857},{"g":16,"d":0.62,"x":0.03084,"y":0.8938},{"g":16,"d":0.62,"x":0.0311,"y":0.903},{"g":16,"d":0.62,"x":0.03127,"y":0.9168},{"g":16,"d":0.62,"x":0.03132,"y":0.9306},{"g":16,"d":0.62,"x":0.03131,"y":0.9466},{"g":16,"d":0.62,"x":0.03129,"y":0.9604},{"g":16,"d":0.62,"x":0.03124,"y":0.9708},{"g":16,"d":0.62,"x":0.03114,"y":0.9754},{"g":16,"d":0.62,"x":0.03101,"y":0.9696},{"g":16,"d":0.62,"x":0.03084,"y":0.9662},{"g":16,"d":0.62,"x":0.03071,"y":0.9673},{"g":16,"d":0.62,"x":0.03081,"y":0.9731},
{"g":17,"d":0.69,"x":0.03117,"y":0.9696},{"g":17,"d":0.69,"x":0.03101,"y":0.957},{"g":17,"d":0.69,"x":0.03064,"y":0.9616},{"g":17,"d":0.69,"x":0.03035,"y":0.9662},{"g":17,"d":0.69,"x":0.03031,"y":0.9604},{"g":17,"d":0.69,"x":0.03041,"y":0.9535},{"g":17,"d":0.69,"x":0.03025,"y":0.9455},{"g":17,"d":0.69,"x":0.02998,"y":0.9432},{"g":17,"d":0.69,"x":0.02989,"y":0.9512},{"g":17,"d":0.69,"x":0.02975,"y":0.9466},{"g":17,"d":0.69,"x":0.02965,"y":0.9294},{"g":17,"d":0.69,"x":0.02969,"y":0.926},{"g":17,"d":0.69,"x":0.02975,"y":0.9099},{"g":17,"d":0.69,"x":0.02979,"y":0.8903},{"g":17,"d":0.69,"x":0.02998,"y":0.8846},{"g":17,"d":0.69,"x":0.03028,"y":0.8834},{"g":17,"d":0.69,"x":0.03058,"y":0.888},{"g":17,"d":0.69,"x":0.03084,"y":0.8984},{"g":17,"d":0.69,"x":0.03117,"y":0.9018},{"g":17,"d":0.69,"x":0.0312,"y":0.911},{"g":17,"d":0.69,"x":0.03124,"y":0.9237},{"g":17,"d":0.69,"x":0.03129,"y":0.942},{"g":17,"d":0.69,"x":0.03134,"y":0.9581},
{"g":18,"d":0.78,"x":0.03114,"y":0.9593},{"g":18,"d":0.78,"x":0.03094,"y":0.9535},{"g":18,"d":0.78,"x":0.03064,"y":0.9593},{"g":18,"d":0.78,"x":0.03048,"y":0.957},{"g":18,"d":0.78,"x":0.03041,"y":0.9489},{"g":18,"d":0.78,"x":0.03018,"y":0.9398},{"g":18,"d":0.78,"x":0.02998,"y":0.9363},{"g":18,"d":0.78,"x":0.02982,"y":0.9374},{"g":18,"d":0.78,"x":0.02975,"y":0.9283},{"g":18,"d":0.78,"x":0.02982,"y":0.9122},{"g":18,"d":0.78,"x":0.02982,"y":0.8915},{"g":18,"d":0.78,"x":0.03005,"y":0.8903},{"g":18,"d":0.78,"x":0.03031,"y":0.888},{"g":18,"d":0.78,"x":0.03054,"y":0.8938},{"g":18,"d":0.78,"x":0.03084,"y":0.9007},{"g":18,"d":0.78,"x":0.03101,"y":0.9053},{"g":18,"d":0.78,"x":0.03094,"y":0.9122},{"g":18,"d":0.78,"x":0.03111,"y":0.9191},{"g":18,"d":0.78,"x":0.03117,"y":0.9283},{"g":18,"d":0.78,"x":0.03121,"y":0.9466},
{"g":19,"d":0.9,"x":0.03071,"y":0.9554},{"g":19,"d":0.9,"x":0.03055,"y":0.9489},{"g":19,"d":0.9,"x":0.03045,"y":0.9375},{"g":19,"d":0.9,"x":0.03028,"y":0.9306},{"g":19,"d":0.9,"x":0.03026,"y":0.9122},{"g":19,"d":0.9,"x":0.03033,"y":0.9007},{"g":19,"d":0.9,"x":0.0303,"y":0.8961},{"g":19,"d":0.9,"x":0.03048,"y":0.8949},{"g":19,"d":0.9,"x":0.03061,"y":0.9007},{"g":19,"d":0.9,"x":0.03071,"y":0.9133},{"g":19,"d":0.9,"x":0.03074,"y":0.9306},{"g":19,"d":0.9,"x":0.03068,"y":0.9444},{"g":19,"d":0.9,"x":0.03076,"y":0.9524},
{"g":20,"d":0.9,"x":0.03098,"y":0.9278},{"g":20,"d":0.9,"x":0.03091,"y":0.931},{"g":20,"d":0.9,"x":0.03084,"y":0.9278},{"g":20,"d":0.9,"x":0.03091,"y":0.9246},
{"g":21,"d":0.9,"x":0.03004,"y":0.9007},{"g":21,"d":0.9,"x":0.02997,"y":0.9046},{"g":21,"d":0.9,"x":0.0299,"y":0.9007},{"g":21,"d":0.9,"x":0.02997,"y":0.8968},
{"g":22,"d":0.69,"x":0.03091,"y":0.9409},{"g":22,"d":0.69,"x":0.03086,"y":0.9437},{"g":22,"d":0.69,"x":0.03081,"y":0.9409},{"g":22,"d":0.69,"x":0.03086,"y":0.9381},
{"g":23,"d":1,"x":0.03059,"y":0.9363},{"g":23,"d":1,"x":0.03045,"y":0.9283},{"g":23,"d":1,"x":0.03033,"y":0.9145},{"g":23,"d":1,"x":0.03043,"y":0.9007},{"g":23,"d":1,"x":0.03051,"y":0.9018},{"g":23,"d":1,"x":0.03063,"y":0.9145},{"g":23,"d":1,"x":0.03066,"y":0.9306}
]},"mark":{"type":"line","interpolate":"cardinal-closed","tension":-0.3,"stroke":"#e8eef2","strokeWidth":0.5,"strokeOpacity":0.5},"encoding":{"order":{"value":null},"detail":{"field":"g"},"x":{"field":"x","type":"quantitative","scale":{"domain":[0.03401,0.025784],"nice":false,"zero":false},"axis":{"title":"τ","titlePadding":11,"values":[0.0325,0.03,0.0275],"format":".4f"}},"y":{"field":"y","type":"quantitative","scale":{"domain":[0.7092,1.1599],"nice":false,"zero":false},"axis":{"orient":"right","title":"σ","titlePadding":14,"values":[0.8,0.9,1,1.1],"format":".1f"}},"fill":{"field":"d","type":"quantitative","legend":null,"scale":{"domain":[0,0.06,0.13,0.2,0.27,0.34,0.41,0.48,0.55,0.62,0.69,0.76,0.83,0.9,1],"range":["#ffffff","#f9fae9","#eef1d2","#dfe3b6","#bcc695","#a0b088","#8aa384","#74958a","#648c90","#55809b","#44709c","#2a558f","#1c4285","#0f2a70","#010b4e"]}}}}
],"columns":2,"bounds":"flush","spacing":{"row":107.5,"column":109.2}}
]}
